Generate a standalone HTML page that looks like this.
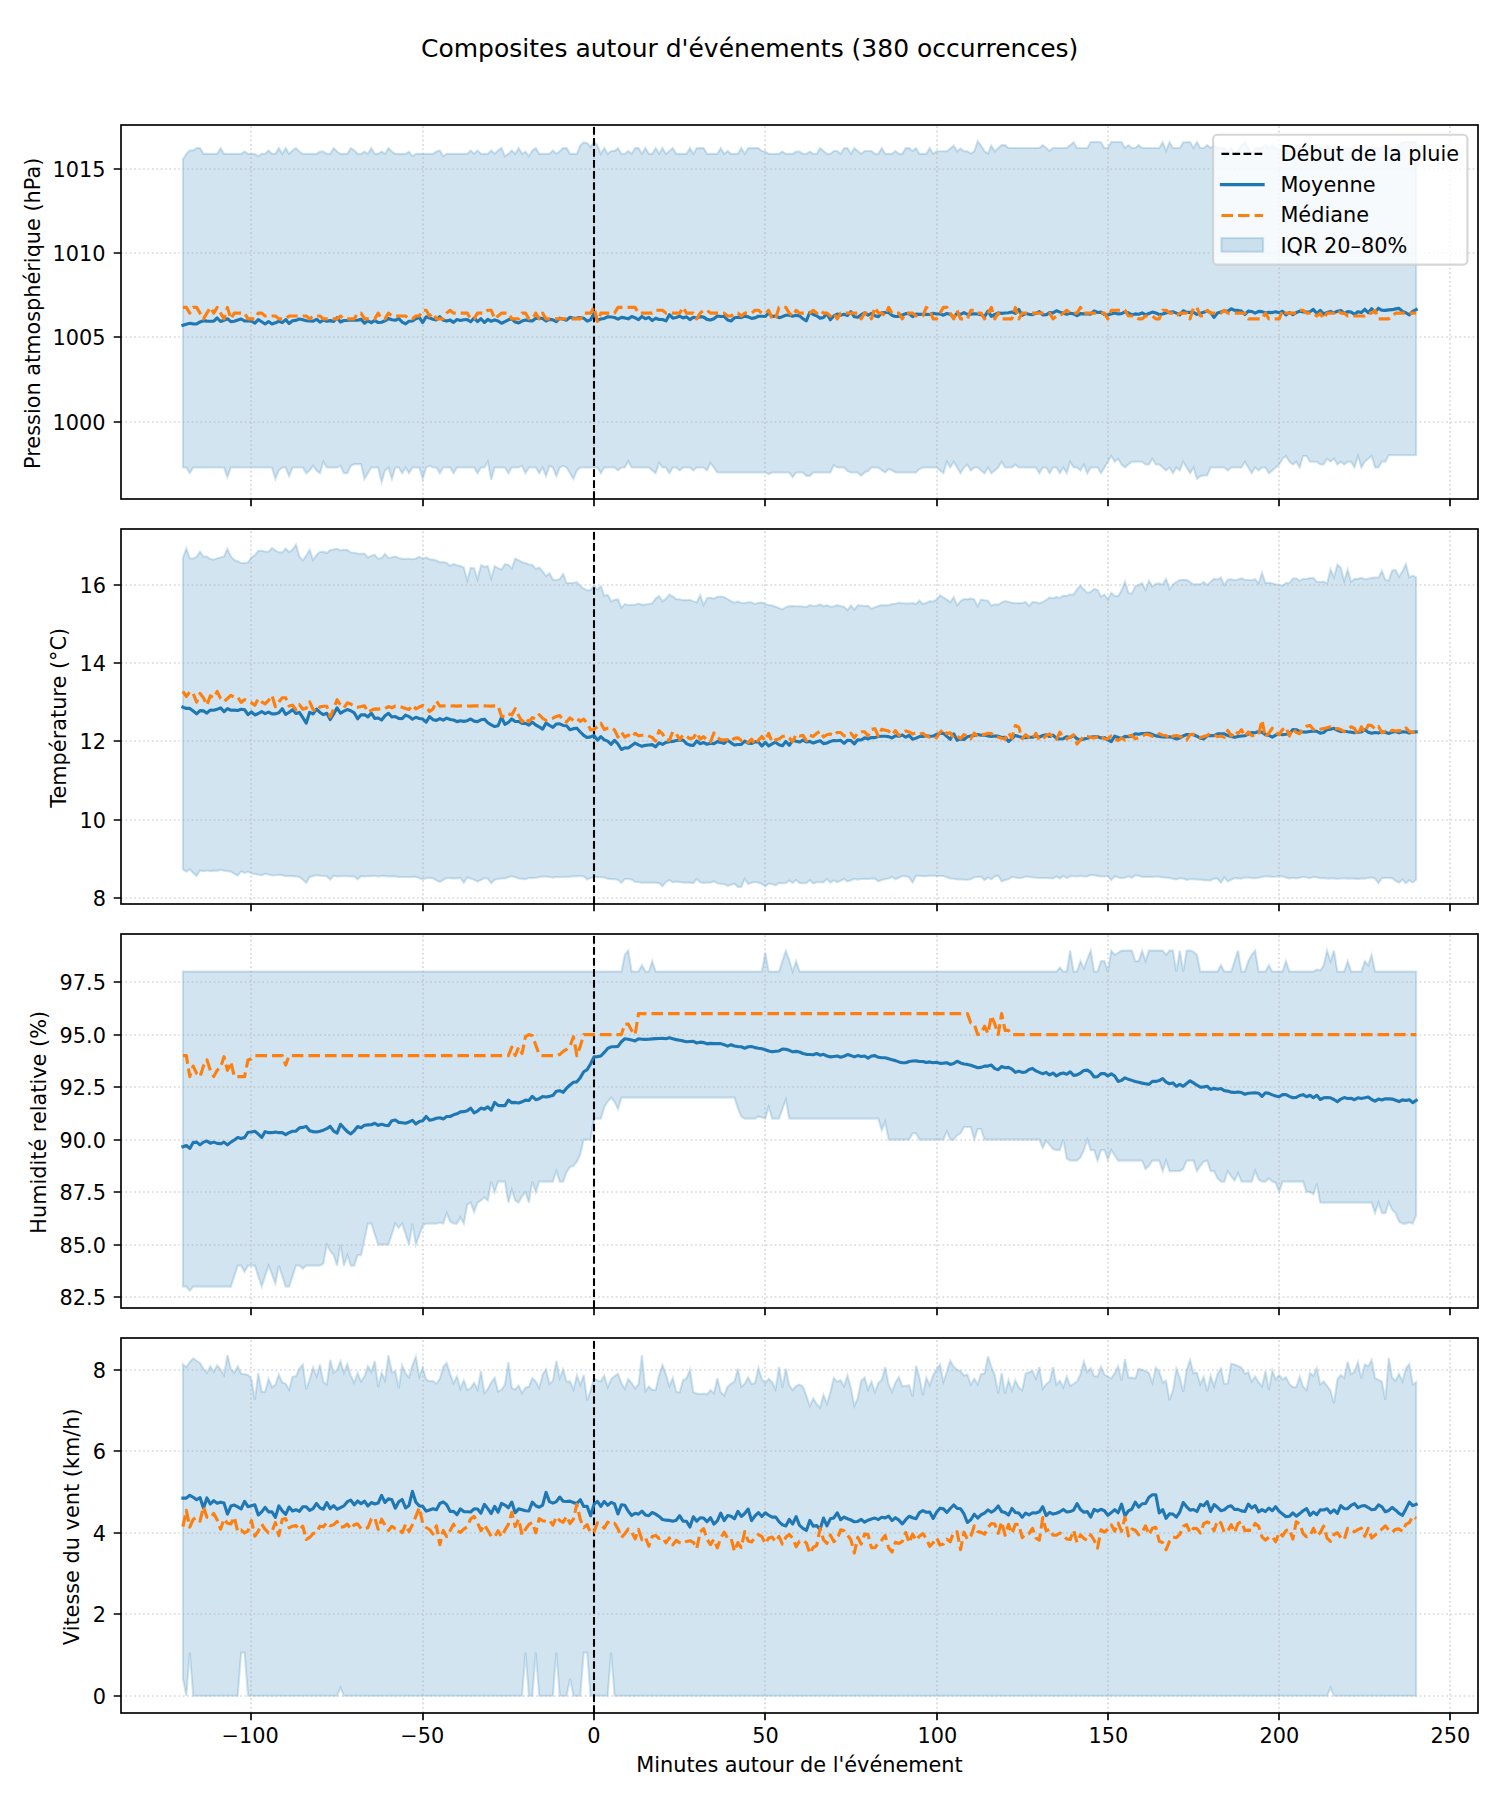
<!DOCTYPE html>
<html lang="fr">
<head>
<meta charset="utf-8">
<title>Composites autour d'événements</title>
<style>
html,body{margin:0;padding:0;background:#fff;}
body{width:1500px;height:1800px;overflow:hidden;font-family:"DejaVu Sans","Liberation Sans",sans-serif;}
svg{display:block;}
</style>
</head>
<body>
<svg width="1500" height="1800" viewBox="0 0 1500 1800" font-family="'DejaVu Sans', 'Liberation Sans', sans-serif" font-size="20.833" fill="#000">
<rect x="0" y="0" width="1500" height="1800" fill="#fff"/>
<text x="749.7" y="57.4" font-size="25.00" text-anchor="middle">Composites autour d'événements (380 occurrences)</text>
<g>
<polygon points="182.92,159.23 186.34,153.84 189.77,150.41 193.19,150.41 196.62,148.12 200.04,148.12 203.47,153.84 206.9,153.84 210.32,153.84 213.75,153.84 217.17,153.84 220.6,148.12 224.02,153.84 227.45,153.84 230.88,153.84 234.3,153.84 237.73,153.84 241.15,153.84 244.58,151.55 248,153.84 251.43,153.84 254.86,153.84 258.28,156.13 261.71,153.84 265.13,153.84 268.56,150.41 271.98,153.84 275.41,153.84 278.84,148.12 282.26,153.84 285.69,148.12 289.11,153.84 292.54,150.41 295.96,148.12 299.39,151.55 302.82,153.84 306.24,153.84 309.67,153.84 313.09,153.84 316.52,153.84 319.94,151.55 323.37,151.55 326.8,153.84 330.22,153.84 333.65,148.12 337.07,151.55 340.5,153.84 343.92,153.84 347.35,153.84 350.78,148.12 354.2,150.41 357.63,153.84 361.05,153.84 364.48,151.55 367.9,153.84 371.33,148.12 374.76,153.84 378.18,153.84 381.61,151.55 385.03,153.84 388.46,148.12 391.88,151.55 395.31,153.84 398.74,153.84 402.16,153.84 405.59,153.84 409.01,151.55 412.44,156.13 415.86,153.84 419.29,153.84 422.72,153.84 426.14,153.84 429.57,153.84 432.99,153.84 436.42,151.55 439.84,150.41 443.27,156.13 446.69,153.84 450.12,153.84 453.55,153.84 456.97,153.84 460.4,153.84 463.82,153.84 467.25,153.84 470.67,150.41 474.1,153.84 477.53,150.41 480.95,153.84 484.38,153.84 487.8,153.84 491.23,150.41 494.65,153.84 498.08,150.41 501.51,148.12 504.93,156.13 508.36,153.84 511.78,150.41 515.21,153.84 518.63,148.12 522.06,153.84 525.49,151.55 528.91,156.13 532.34,150.41 535.76,148.12 539.19,153.84 542.61,153.84 546.04,153.84 549.47,153.84 552.89,150.41 556.32,153.84 559.74,150.98 563.17,148.12 566.59,148.12 570.02,153.84 573.45,153.84 576.87,153.84 580.3,145.26 583.72,142.39 587.15,142.9 590.57,147.11 594,141.72 597.43,145.26 600.85,153.84 604.28,148.12 607.7,153.84 611.13,150.98 614.55,150.98 617.98,148.12 621.41,153.84 624.83,153.84 628.26,150.98 631.68,153.84 635.11,148.12 638.53,148.12 641.96,153.84 645.39,148.12 648.81,153.84 652.24,153.84 655.66,148.12 659.09,153.84 662.51,148.12 665.94,153.84 669.37,150.98 672.79,148.12 676.22,153.84 679.64,153.84 683.07,153.84 686.49,153.84 689.92,148.12 693.35,153.84 696.77,148.12 700.2,148.12 703.62,148.12 707.05,153.84 710.47,153.84 713.9,153.84 717.33,153.84 720.75,148.12 724.18,153.84 727.6,150.98 731.03,153.84 734.45,153.84 737.88,153.84 741.31,148.12 744.73,153.84 748.16,148.12 751.58,148.12 755.01,148.12 758.43,148.12 761.86,150.98 765.28,151.55 768.71,153.84 772.14,153.84 775.56,153.84 778.99,153.84 782.41,151.55 785.84,153.84 789.26,153.84 792.69,153.84 796.12,151.55 799.54,151.55 802.97,153.84 806.39,153.84 809.82,151.55 813.24,153.84 816.67,153.84 820.1,148.12 823.52,150.98 826.95,153.84 830.37,153.84 833.8,150.98 837.22,150.98 840.65,153.84 844.08,148.12 847.5,148.12 850.93,153.84 854.35,148.12 857.78,150.98 861.2,153.84 864.63,150.98 868.06,150.98 871.48,150.98 874.91,153.84 878.33,153.84 881.76,148.12 885.18,153.84 888.61,153.84 892.04,153.84 895.46,150.98 898.89,153.84 902.31,153.84 905.74,148.12 909.16,148.12 912.59,150.98 916.02,148.12 919.44,153.84 922.87,153.84 926.29,153.84 929.72,148.12 933.14,153.84 936.57,151.32 940,151.32 943.42,151.32 946.85,151.32 950.27,148.46 953.7,145.59 957.12,151.32 960.55,148.46 963.98,151.32 967.4,151.32 970.83,153.61 974.25,151.32 977.68,141.21 981.1,145.59 984.53,151.32 987.96,153.61 991.38,145.59 994.81,151.32 998.23,147.95 1001.66,145.09 1005.08,145.09 1008.51,147.95 1011.94,147.95 1015.36,147.95 1018.79,147.95 1022.21,147.95 1025.64,147.95 1029.06,147.95 1032.49,147.95 1035.92,147.95 1039.34,147.95 1042.77,145.09 1046.19,147.95 1049.62,150.81 1053.04,147.95 1056.47,147.95 1059.9,147.95 1063.32,147.95 1066.75,147.95 1070.17,145.09 1073.6,142.22 1077.02,147.95 1080.45,147.95 1083.88,147.95 1087.3,147.95 1090.73,142.06 1094.15,142.06 1097.58,142.06 1101,142.22 1104.43,147.95 1107.86,147.95 1111.28,142.06 1114.71,142.06 1118.13,142.06 1121.56,142.06 1124.98,147.95 1128.41,145.09 1131.83,147.95 1135.26,147.95 1138.69,145.09 1142.11,147.95 1145.54,147.95 1148.96,147.95 1152.39,147.95 1155.81,147.95 1159.24,147.95 1162.67,142.06 1166.09,150.81 1169.52,142.06 1172.94,147.95 1176.37,147.95 1179.79,147.95 1183.22,142.22 1186.65,142.22 1190.07,142.06 1193.5,147.95 1196.92,142.06 1200.35,147.95 1203.77,147.95 1207.2,145.09 1210.63,147.95 1214.05,145.09 1217.48,147.95 1220.9,147.95 1224.33,147.95 1227.75,150.81 1231.18,147.95 1234.61,153.68 1238.03,150.81 1241.46,145.09 1244.88,142.22 1248.31,147.95 1251.73,153.68 1255.16,147.95 1258.59,147.95 1262.01,147.95 1265.44,145.09 1268.86,147.95 1272.29,145.09 1275.71,147.95 1279.14,150.81 1282.57,150.81 1285.99,147.95 1289.42,153.68 1292.84,147.95 1296.27,147.95 1299.69,147.95 1303.12,147.95 1306.55,142.22 1309.97,147.95 1313.4,147.95 1316.82,147.95 1320.25,147.95 1323.67,147.95 1327.1,145.09 1330.53,147.95 1333.95,147.95 1337.38,147.95 1340.8,147.95 1344.23,147.95 1347.65,147.95 1351.08,147.95 1354.51,147.95 1357.93,147.95 1361.36,147.95 1364.78,147.95 1368.21,147.95 1371.63,147.95 1375.06,147.95 1378.49,147.95 1381.91,147.95 1385.34,145.09 1388.76,147.95 1392.19,147.95 1395.61,147.95 1399.04,145.09 1402.47,142.06 1405.89,142.06 1409.32,142.06 1412.74,142.06 1416.17,142.06 1416.17,455.28 1412.74,455.28 1409.32,455.28 1405.89,455.28 1402.47,455.28 1399.04,455.28 1395.61,455.28 1392.19,455.28 1388.76,455.28 1385.34,461.68 1381.91,461.68 1378.49,467.4 1375.06,467.4 1371.63,455.95 1368.21,458.82 1364.78,461.68 1361.36,467.4 1357.93,455.95 1354.51,467.4 1351.08,461.68 1347.65,461.68 1344.23,464.54 1340.8,461.68 1337.38,464.54 1333.95,458.82 1330.53,461.68 1327.1,458.82 1323.67,464.54 1320.25,464.54 1316.82,461.68 1313.4,461.68 1309.97,461.68 1306.55,455.95 1303.12,455.95 1299.69,467.4 1296.27,461.68 1292.84,464.54 1289.42,461.68 1285.99,455.95 1282.57,458.82 1279.14,464.54 1275.71,467.57 1272.29,470.44 1268.86,473.3 1265.44,467.57 1262.01,467.57 1258.59,470.44 1255.16,467.57 1251.73,473.3 1248.31,467.57 1244.88,461.85 1241.46,467.57 1238.03,467.57 1234.61,467.57 1231.18,467.57 1227.75,470.44 1224.33,467.57 1220.9,467.57 1217.48,467.57 1214.05,467.57 1210.63,467.57 1207.2,475.49 1203.77,475.49 1200.35,476.33 1196.92,478.86 1193.5,467.57 1190.07,473.3 1186.65,467.57 1183.22,461.85 1179.79,470.44 1176.37,467.57 1172.94,473.3 1169.52,467.57 1166.09,470.44 1162.67,467.57 1159.24,464.54 1155.81,464.54 1152.39,458.82 1148.96,464.54 1145.54,464.54 1142.11,461.68 1138.69,461.68 1135.26,461.68 1131.83,461.68 1128.41,464.54 1124.98,467.4 1121.56,464.54 1118.13,458.82 1114.71,461.68 1111.28,455.95 1107.86,461.68 1104.43,467.57 1101,473.3 1097.58,467.57 1094.15,467.57 1090.73,467.57 1087.3,473.3 1083.88,464.71 1080.45,470.44 1077.02,467.57 1073.6,467.57 1070.17,461.85 1066.75,473.3 1063.32,467.57 1059.9,473.3 1056.47,467.57 1053.04,467.57 1049.62,473.3 1046.19,467.57 1042.77,467.57 1039.34,473.3 1035.92,467.57 1032.49,467.57 1029.06,467.57 1025.64,467.57 1022.21,467.57 1018.79,467.57 1015.36,464.71 1011.94,467.57 1008.51,467.57 1005.08,467.57 1001.66,461.85 998.23,467.57 994.81,470.44 991.38,473.3 987.96,467.57 984.53,473.3 981.1,470.44 977.68,467.57 974.25,467.57 970.83,470.44 967.4,464.71 963.98,467.57 960.55,473.3 957.12,467.57 953.7,461.85 950.27,467.57 946.85,461.85 943.42,473.3 940,470.44 936.57,467.57 933.14,467.57 929.72,467.57 926.29,467.57 922.87,467.57 919.44,469.02 916.02,472.46 912.59,472.46 909.16,472.46 905.74,472.46 902.31,472.46 898.89,472.46 895.46,472.46 892.04,470.17 888.61,469.02 885.18,472.46 881.76,470.17 878.33,467.57 874.91,467.57 871.48,467.57 868.06,471.01 864.63,472.46 861.2,475.89 857.78,472.46 854.35,472.46 850.93,472.46 847.5,471.01 844.08,467.57 840.65,467.57 837.22,467.57 833.8,465.28 830.37,472.46 826.95,472.46 823.52,472.46 820.1,472.46 816.67,472.46 813.24,472.46 809.82,475.89 806.39,475.89 802.97,472.46 799.54,472.46 796.12,472.46 792.69,477.17 789.26,472.46 785.84,472.46 782.41,472.46 778.99,472.46 775.56,472.46 772.14,472.46 768.71,474.17 765.28,472.46 761.86,472.46 758.43,472.46 755.01,472.46 751.58,472.46 748.16,472.46 744.73,472.46 741.31,472.46 737.88,472.46 734.45,472.46 731.03,472.46 727.6,472.46 724.18,472.46 720.75,472.46 717.33,472.46 713.9,467.57 710.47,462.99 707.05,470.44 703.62,467.57 700.2,467.57 696.77,467.57 693.35,470.44 689.92,467.57 686.49,467.57 683.07,467.57 679.64,470.44 676.22,467.57 672.79,467.57 669.37,473.3 665.94,467.57 662.51,467.57 659.09,462.99 655.66,473.3 652.24,470.44 648.81,467.57 645.39,467.57 641.96,467.57 638.53,467.57 635.11,467.57 631.68,467.57 628.26,461.17 624.83,467.57 621.41,467.57 617.98,470.44 614.55,467.57 611.13,467.57 607.7,467.57 604.28,467.57 600.85,473.3 597.43,467.57 594,467.57 590.57,467.57 587.15,467.57 583.72,467.57 580.3,467.57 576.87,470.44 573.45,479.02 570.02,473.3 566.59,467.57 563.17,465.86 559.74,467.57 556.32,476.16 552.89,467.57 549.47,465.86 546.04,476.16 542.61,467.57 539.19,473.3 535.76,467.57 532.34,467.57 528.91,467.57 525.49,473.3 522.06,465.86 518.63,467.57 515.21,467.57 511.78,467.57 508.36,473.3 504.93,467.57 501.51,467.57 498.08,467.57 494.65,467.57 491.23,479.7 487.8,461.85 484.38,467.57 480.95,467.57 477.53,473.3 474.1,467.57 470.67,467.57 467.25,467.57 463.82,467.57 460.4,467.57 456.97,467.57 453.55,473.3 450.12,467.57 446.69,467.57 443.27,467.57 439.84,473.3 436.42,467.57 432.99,467.57 429.57,465.86 426.14,467.57 422.72,478.86 419.29,467.57 415.86,467.57 412.44,467.57 409.01,473.3 405.59,467.57 402.16,473.3 398.74,467.57 395.31,467.57 391.88,479.02 388.46,467.57 385.03,470.44 381.61,482.22 378.18,467.57 374.76,467.57 371.33,467.57 367.9,473.3 364.48,479.02 361.05,464.14 357.63,464.14 354.2,464.14 350.78,465.86 347.35,473.3 343.92,473.3 340.5,465.86 337.07,467.57 333.65,467.57 330.22,467.57 326.8,467.57 323.37,461.85 319.94,473.3 316.52,470.44 313.09,465.86 309.67,470.44 306.24,473.3 302.82,467.57 299.39,467.57 295.96,467.57 292.54,467.57 289.11,476.16 285.69,467.57 282.26,467.57 278.84,470.44 275.41,479.02 271.98,467.57 268.56,467.57 265.13,467.57 261.71,467.57 258.28,467.57 254.86,467.57 251.43,467.57 248,467.57 244.58,467.57 241.15,467.57 237.73,467.57 234.3,467.57 230.88,467.57 227.45,477.17 224.02,467.57 220.6,467.57 217.17,467.57 213.75,467.57 210.32,467.57 206.9,467.57 203.47,467.57 200.04,467.57 196.62,467.57 193.19,467.57 189.77,472.96 186.34,467.57 182.92,467.57" fill="#1f77b4" fill-opacity="0.2" stroke="#1f77b4" stroke-opacity="0.2" stroke-width="2.083" stroke-linejoin="miter"/>
<path d="M251 499V125M423 499V125M594 499V125M765 499V125M937 499V125M1108 499V125M1279 499V125M1450 499V125M121 422H1478M121 337H1478M121 253H1478M121 169H1478" fill="none" stroke="#b0b0b0" stroke-opacity="0.5" stroke-width="1.667" stroke-dasharray="1.667 2.750"/>
<path d="M594 499V125" fill="none" stroke="#000" stroke-width="2.083" stroke-dasharray="7.708 3.333"/>
<polyline points="182.92,325.28 186.34,324.15 189.77,323.29 193.19,323.89 196.62,323.94 200.04,321.98 203.47,320.67 206.9,321.11 210.32,321.28 213.75,321.22 217.17,318.01 220.6,321.48 224.02,320.24 227.45,318.8 230.88,321.64 234.3,321.26 237.73,320.03 241.15,319 244.58,321.03 248,320.9 251.43,321.26 254.86,323.21 258.28,319.67 261.71,321.73 265.13,323.94 268.56,321.54 271.98,323.92 275.41,322.81 278.84,321.24 282.26,322.64 285.69,319.6 289.11,323.44 292.54,320.79 295.96,320.33 299.39,318.94 302.82,319.74 306.24,320.77 309.67,320.98 313.09,321.17 316.52,319.34 319.94,322.05 323.37,320.24 326.8,321.16 330.22,320.64 333.65,321.38 337.07,317.73 340.5,321.94 343.92,320.55 347.35,320.5 350.78,319.98 354.2,320.2 357.63,320.22 361.05,319.36 364.48,323.11 367.9,320.8 371.33,322.66 374.76,320.43 378.18,322.55 381.61,322.2 385.03,320.82 388.46,318.59 391.88,319.82 395.31,320.23 398.74,318.53 402.16,322.07 405.59,323.8 409.01,321.25 412.44,321.01 415.86,318.7 419.29,317.31 422.72,322.56 426.14,316.76 429.57,318.11 432.99,319.19 436.42,319.87 439.84,316.73 443.27,320.26 446.69,321.07 450.12,320.11 453.55,322.37 456.97,319.55 460.4,320.41 463.82,319.71 467.25,319.64 470.67,321.77 474.1,318.14 477.53,321.65 480.95,318.73 484.38,322.47 487.8,319.46 491.23,321.24 494.65,319.91 498.08,320.93 501.51,323.23 504.93,321.58 508.36,319.76 511.78,318.89 515.21,322.04 518.63,323 522.06,321.08 525.49,320.05 528.91,320.66 532.34,320.9 535.76,318.36 539.19,318.16 542.61,318.47 546.04,320.99 549.47,319.42 552.89,319.81 556.32,321.65 559.74,318.12 563.17,319.3 566.59,320.14 570.02,317.23 573.45,318.19 576.87,318.03 580.3,317.48 583.72,318.18 587.15,321.16 590.57,319.81 594,313.49 597.43,320.3 600.85,319.02 604.28,318.42 607.7,316.78 611.13,316.94 614.55,317.49 617.98,319.07 621.41,317.35 624.83,317.88 628.26,318.86 631.68,316.5 635.11,317.76 638.53,319.59 641.96,316.47 645.39,318.72 648.81,317.38 652.24,320.53 655.66,318.19 659.09,319.54 662.51,319.52 665.94,320.89 669.37,314.69 672.79,318.11 676.22,317.46 679.64,316.09 683.07,317.89 686.49,316.87 689.92,319.65 693.35,317.24 696.77,318.11 700.2,316.66 703.62,317.09 707.05,319.41 710.47,320.06 713.9,318.73 717.33,316.02 720.75,316.44 724.18,316.41 727.6,320.03 731.03,320.99 734.45,317.8 737.88,317.3 741.31,317.66 744.73,316.15 748.16,316.89 751.58,318.37 755.01,317.85 758.43,316.24 761.86,316.29 765.28,316.46 768.71,312.86 772.14,316.65 775.56,316.03 778.99,317.68 782.41,316.67 785.84,315.29 789.26,315.18 792.69,316.24 796.12,315.35 799.54,315.83 802.97,318.72 806.39,320.79 809.82,312.28 813.24,314.48 816.67,315.78 820.1,318.28 823.52,317.54 826.95,313.51 830.37,319.74 833.8,315.97 837.22,314.11 840.65,315.17 844.08,314.2 847.5,315.5 850.93,311.63 854.35,316.77 857.78,317.23 861.2,314.71 864.63,312.91 868.06,315.12 871.48,313.4 874.91,315.75 878.33,316.7 881.76,312.74 885.18,312.44 888.61,312.45 892.04,315.39 895.46,316.44 898.89,316.41 902.31,314.94 905.74,313.67 909.16,313.74 912.59,316.64 916.02,314.13 919.44,314.35 922.87,314.2 926.29,314.33 929.72,314.55 933.14,313.31 936.57,313.97 940,313.81 943.42,315.18 946.85,313.52 950.27,314.29 953.7,317.3 957.12,313.35 960.55,314.47 963.98,312.65 967.4,314.29 970.83,314.17 974.25,313.69 977.68,314.02 981.1,314.66 984.53,316.69 987.96,311.17 991.38,316.34 994.81,314.45 998.23,312.93 1001.66,313.33 1005.08,313.03 1008.51,312.71 1011.94,311.95 1015.36,313.4 1018.79,309.43 1022.21,315.36 1025.64,313.47 1029.06,314.34 1032.49,314.61 1035.92,313.33 1039.34,311.55 1042.77,314.82 1046.19,314.81 1049.62,312.62 1053.04,312.88 1056.47,310.72 1059.9,312.12 1063.32,313.31 1066.75,314.15 1070.17,313.31 1073.6,313.89 1077.02,315.68 1080.45,313.58 1083.88,313.85 1087.3,313.92 1090.73,314.21 1094.15,310.98 1097.58,312.47 1101,312.09 1104.43,314.42 1107.86,315.04 1111.28,313.89 1114.71,313.06 1118.13,313.93 1121.56,313.66 1124.98,311.9 1128.41,312.87 1131.83,314.79 1135.26,313.92 1138.69,314.24 1142.11,312.94 1145.54,314.96 1148.96,313.43 1152.39,312.09 1155.81,313.07 1159.24,314.47 1162.67,313.99 1166.09,312.84 1169.52,312.27 1172.94,311.71 1176.37,313.17 1179.79,314.92 1183.22,310.73 1186.65,312.42 1190.07,312.23 1193.5,312.35 1196.92,314.36 1200.35,313.24 1203.77,312.34 1207.2,311.14 1210.63,312.59 1214.05,317.38 1217.48,312.99 1220.9,312.06 1224.33,310.61 1227.75,311.47 1231.18,308.74 1234.61,310.33 1238.03,310.42 1241.46,311.01 1244.88,314.5 1248.31,311.1 1251.73,311.45 1255.16,313.13 1258.59,311.41 1262.01,311.64 1265.44,312.95 1268.86,312.41 1272.29,312.59 1275.71,311.82 1279.14,312.78 1282.57,311.28 1285.99,314.98 1289.42,312.47 1292.84,314.56 1296.27,312.7 1299.69,311.15 1303.12,311.87 1306.55,312.04 1309.97,311.73 1313.4,309.42 1316.82,313.45 1320.25,310.39 1323.67,313.99 1327.1,312.38 1330.53,311.39 1333.95,312.89 1337.38,311.26 1340.8,310.43 1344.23,313.31 1347.65,311.58 1351.08,312 1354.51,314.34 1357.93,311.65 1361.36,312.54 1364.78,309.27 1368.21,312.59 1371.63,308.65 1375.06,312.01 1378.49,308.23 1381.91,310.31 1385.34,310.41 1388.76,309.84 1392.19,309.66 1395.61,308.87 1399.04,308.34 1402.47,311.45 1405.89,312.79 1409.32,314.91 1412.74,311.41 1416.17,309.64" fill="none" stroke="#1f77b4" stroke-width="3.125" stroke-linejoin="round" stroke-linecap="square"/>
<polyline points="182.92,307.42 186.34,307.42 189.77,313.15 193.19,307.42 196.62,307.42 200.04,313.15 203.47,318.88 206.9,313.15 210.32,307.42 213.75,313.15 217.17,307.42 220.6,313.15 224.02,318.88 227.45,307.42 230.88,318.88 234.3,313.15 237.73,313.15 241.15,313.15 244.58,313.15 248,318.88 251.43,318.88 254.86,318.88 258.28,313.15 261.71,313.15 265.13,316.01 268.56,316.01 271.98,316.01 275.41,316.01 278.84,318.88 282.26,318.88 285.69,318.88 289.11,316.01 292.54,316.01 295.96,316.01 299.39,316.01 302.82,316.01 306.24,316.01 309.67,318.88 313.09,316.01 316.52,316.01 319.94,316.01 323.37,318.88 326.8,318.88 330.22,318.88 333.65,318.88 337.07,318.88 340.5,316.01 343.92,318.88 347.35,318.88 350.78,318.88 354.2,318.88 357.63,313.15 361.05,313.15 364.48,318.88 367.9,318.88 371.33,318.88 374.76,318.88 378.18,313.15 381.61,318.88 385.03,318.88 388.46,313.15 391.88,316.01 395.31,316.01 398.74,316.01 402.16,316.01 405.59,316.01 409.01,318.88 412.44,318.88 415.86,316.01 419.29,316.01 422.72,310.29 426.14,310.29 429.57,316.01 432.99,313.15 436.42,318.88 439.84,318.88 443.27,318.88 446.69,313.15 450.12,310.29 453.55,313.15 456.97,313.15 460.4,313.15 463.82,313.15 467.25,313.15 470.67,318.88 474.1,318.88 477.53,313.15 480.95,313.15 484.38,313.15 487.8,310.29 491.23,310.29 494.65,318.88 498.08,316.01 501.51,313.15 504.93,313.15 508.36,313.15 511.78,318.88 515.21,318.88 518.63,318.88 522.06,313.15 525.49,313.15 528.91,318.88 532.34,318.88 535.76,313.15 539.19,318.88 542.61,313.15 546.04,318.88 549.47,318.88 552.89,318.88 556.32,318.88 559.74,318.88 563.17,318.88 566.59,318.88 570.02,318.88 573.45,318.88 576.87,318.88 580.3,318.88 583.72,313.15 587.15,313.15 590.57,313.15 594,307.09 597.43,321.4 600.85,313.15 604.28,313.15 607.7,313.15 611.13,313.15 614.55,313.15 617.98,307.42 621.41,307.42 624.83,307.42 628.26,307.42 631.68,307.42 635.11,307.42 638.53,313.15 641.96,313.15 645.39,313.15 648.81,313.15 652.24,313.15 655.66,310.29 659.09,310.29 662.51,310.29 665.94,313.15 669.37,313.15 672.79,313.15 676.22,313.15 679.64,313.15 683.07,307.42 686.49,313.15 689.92,313.15 693.35,313.15 696.77,318.88 700.2,313.15 703.62,310.29 707.05,310.29 710.47,313.15 713.9,313.15 717.33,313.15 720.75,313.15 724.18,313.15 727.6,316.01 731.03,316.01 734.45,313.15 737.88,313.15 741.31,316.01 744.73,313.15 748.16,313.15 751.58,313.15 755.01,310.29 758.43,310.29 761.86,313.15 765.28,313.15 768.71,310.29 772.14,318.88 775.56,318.88 778.99,307.42 782.41,307.42 785.84,307.42 789.26,313.15 792.69,316.01 796.12,310.29 799.54,313.15 802.97,313.15 806.39,313.15 809.82,313.15 813.24,310.29 816.67,313.15 820.1,310.29 823.52,313.15 826.95,313.15 830.37,316.01 833.8,313.15 837.22,318.88 840.65,313.15 844.08,313.15 847.5,313.15 850.93,313.15 854.35,313.15 857.78,313.15 861.2,318.88 864.63,313.15 868.06,313.15 871.48,318.88 874.91,307.42 878.33,313.15 881.76,313.15 885.18,316.01 888.61,307.42 892.04,313.15 895.46,313.15 898.89,313.15 902.31,318.88 905.74,313.15 909.16,313.15 912.59,313.15 916.02,316.01 919.44,316.01 922.87,316.01 926.29,307.42 929.72,310.29 933.14,318.88 936.57,318.88 940,313.15 943.42,307.42 946.85,307.42 950.27,313.15 953.7,318.88 957.12,310.29 960.55,318.88 963.98,318.88 967.4,318.88 970.83,310.29 974.25,310.29 977.68,313.15 981.1,313.15 984.53,318.88 987.96,313.15 991.38,307.42 994.81,318.88 998.23,313.15 1001.66,318.88 1005.08,318.88 1008.51,318.88 1011.94,318.88 1015.36,307.42 1018.79,318.88 1022.21,313.15 1025.64,313.15 1029.06,313.15 1032.49,313.15 1035.92,313.15 1039.34,313.15 1042.77,313.15 1046.19,313.15 1049.62,313.15 1053.04,318.88 1056.47,316.01 1059.9,316.01 1063.32,313.15 1066.75,310.29 1070.17,313.15 1073.6,313.15 1077.02,313.15 1080.45,307.42 1083.88,313.15 1087.3,313.15 1090.73,313.15 1094.15,313.15 1097.58,313.15 1101,313.15 1104.43,313.15 1107.86,318.88 1111.28,310.29 1114.71,310.29 1118.13,310.29 1121.56,310.29 1124.98,310.29 1128.41,316.01 1131.83,316.01 1135.26,316.01 1138.69,318.88 1142.11,318.88 1145.54,316.01 1148.96,316.01 1152.39,316.01 1155.81,318.88 1159.24,318.88 1162.67,310.29 1166.09,310.29 1169.52,313.15 1172.94,313.15 1176.37,316.01 1179.79,313.15 1183.22,313.15 1186.65,313.15 1190.07,318.88 1193.5,307.42 1196.92,307.42 1200.35,316.01 1203.77,316.01 1207.2,310.29 1210.63,313.15 1214.05,313.15 1217.48,313.15 1220.9,313.15 1224.33,310.29 1227.75,313.15 1231.18,313.15 1234.61,313.15 1238.03,313.15 1241.46,313.15 1244.88,313.15 1248.31,318.88 1251.73,318.88 1255.16,318.88 1258.59,318.88 1262.01,318.88 1265.44,313.15 1268.86,318.88 1272.29,318.88 1275.71,318.88 1279.14,318.88 1282.57,310.29 1285.99,313.15 1289.42,313.15 1292.84,313.15 1296.27,313.15 1299.69,310.29 1303.12,310.29 1306.55,313.15 1309.97,313.15 1313.4,313.15 1316.82,316.01 1320.25,313.15 1323.67,318.88 1327.1,313.15 1330.53,313.15 1333.95,313.15 1337.38,310.29 1340.8,313.15 1344.23,313.15 1347.65,316.01 1351.08,316.01 1354.51,316.01 1357.93,316.01 1361.36,316.01 1364.78,316.01 1368.21,313.15 1371.63,313.15 1375.06,310.29 1378.49,318.88 1381.91,318.88 1385.34,318.88 1388.76,318.88 1392.19,316.01 1395.61,313.15 1399.04,313.15 1402.47,313.15 1405.89,313.15 1409.32,313.15 1412.74,313.15 1416.17,313.15" fill="none" stroke="#ff7f0e" stroke-width="3.125" stroke-linejoin="round" stroke-dasharray="11.562 5.000"/>
<path d="M251 499v7.29M423 499v7.29M594 499v7.29M765 499v7.29M937 499v7.29M1108 499v7.29M1279 499v7.29M1450 499v7.29M121 422h-7.29M121 337h-7.29M121 253h-7.29M121 169h-7.29" fill="none" stroke="#000" stroke-width="1.667"/>
<rect x="121" y="125" width="1357" height="374" fill="none" stroke="#000" stroke-width="1.667" stroke-linejoin="miter"/>
<text x="105.5" y="429.6" text-anchor="end">1000</text>
<text x="105.5" y="344.6" text-anchor="end">1005</text>
<text x="105.5" y="260.6" text-anchor="end">1010</text>
<text x="105.5" y="176.6" text-anchor="end">1015</text>
<text transform="translate(39.9 313.3) rotate(-90)" text-anchor="middle">Pression atmosphérique (hPa)</text>
</g>
<g>
<polygon points="182.92,557.99 186.34,548.32 189.77,558.25 193.19,558.46 196.62,556.72 200.04,551.62 203.47,556.65 206.9,556.46 210.32,559 213.75,559.75 217.17,558.36 220.6,557.57 224.02,556.51 227.45,548.89 230.88,556.51 234.3,560.02 237.73,561.25 241.15,563.06 244.58,562.89 248,562.41 251.43,557.31 254.86,555.13 258.28,550.76 261.71,550.68 265.13,551.53 268.56,551.79 271.98,547.95 275.41,550.65 278.84,552.24 282.26,552.41 285.69,548.56 289.11,552.05 292.54,549.65 295.96,544.62 299.39,556.56 302.82,560.38 306.24,555.53 309.67,549.72 313.09,559.92 316.52,555.03 319.94,551.97 323.37,551.66 326.8,553.05 330.22,549.99 333.65,549.44 337.07,548.74 340.5,550.46 343.92,549.75 347.35,550.02 350.78,552.52 354.2,552.82 357.63,553.48 361.05,553.76 364.48,553.55 367.9,557.41 371.33,555.69 374.76,554.78 378.18,558.68 381.61,557.97 385.03,553.94 388.46,557.9 391.88,557.38 395.31,556.51 398.74,558.02 402.16,558.88 405.59,558.71 409.01,558.82 412.44,559.26 415.86,558.43 419.29,556.65 422.72,558.65 426.14,557.41 429.57,559.21 432.99,559.62 436.42,560.52 439.84,562.31 443.27,562.08 446.69,563.03 450.12,565.81 453.55,563.97 456.97,565.36 460.4,566.11 463.82,567.42 467.25,580.4 470.67,567.79 474.1,568.21 477.53,579.26 480.95,565.3 484.38,566.75 487.8,566.05 491.23,578.42 494.65,566.09 498.08,568.17 501.51,569.5 504.93,564.12 508.36,564.84 511.78,568.39 515.21,558.62 518.63,560.18 522.06,562.33 525.49,563.07 528.91,564.4 532.34,564.98 535.76,568.99 539.19,567.51 542.61,571.29 546.04,576.03 549.47,573.14 552.89,579.46 556.32,580.15 559.74,578.97 563.17,574.05 566.59,583.01 570.02,583.01 573.45,582.77 576.87,582.18 580.3,586.06 583.72,588.71 587.15,590.28 590.57,590.12 594,585.4 597.43,589.42 600.85,586.12 604.28,595.8 607.7,594.69 611.13,601.3 614.55,599.68 617.98,599.34 621.41,607.62 624.83,604.06 628.26,605.02 631.68,604.67 635.11,604.75 638.53,603.53 641.96,604.82 645.39,604.43 648.81,604.03 652.24,603.37 655.66,598.55 659.09,595.97 662.51,601.29 665.94,598.66 669.37,594.63 672.79,596.3 676.22,599.11 679.64,599.25 683.07,600.1 686.49,600.16 689.92,599.75 693.35,601.39 696.77,602.35 700.2,595.14 703.62,604.95 707.05,597.91 710.47,597.77 713.9,598.59 717.33,596.82 720.75,596.45 724.18,597.19 727.6,599.04 731.03,601.17 734.45,602.74 737.88,601.48 741.31,602.96 744.73,603.04 748.16,602.3 751.58,602.2 755.01,603.91 758.43,602.66 761.86,602.48 765.28,604.04 768.71,605.02 772.14,605.58 775.56,606.84 778.99,607.97 782.41,609.15 785.84,607.13 789.26,606.13 792.69,606.06 796.12,606.23 799.54,606.29 802.97,606.5 806.39,606.92 809.82,605.03 813.24,606.01 816.67,605.69 820.1,604.34 823.52,606.12 826.95,605.29 830.37,606.79 833.8,606.23 837.22,605.2 840.65,605.95 844.08,606.86 847.5,610.07 850.93,605.48 854.35,609.6 857.78,605.22 861.2,605.53 864.63,606 868.06,605.8 871.48,608.69 874.91,607.29 878.33,606.09 881.76,604.97 885.18,605.37 888.61,605.14 892.04,604.03 895.46,603.73 898.89,602.71 902.31,603.15 905.74,603.46 909.16,603.47 912.59,603.01 916.02,604.02 919.44,600.54 922.87,604.05 926.29,602.82 929.72,601.19 933.14,601.54 936.57,599.78 940,595.37 943.42,597.45 946.85,599.61 950.27,602.2 953.7,597.19 957.12,605.16 960.55,600.99 963.98,598.98 967.4,599.36 970.83,598.41 974.25,599.44 977.68,606.18 981.1,599.38 984.53,600.34 987.96,600.64 991.38,605.74 994.81,604.34 998.23,604.85 1001.66,602.32 1005.08,601.11 1008.51,601.81 1011.94,602.68 1015.36,603.27 1018.79,603.1 1022.21,603.01 1025.64,601.96 1029.06,605.91 1032.49,601.95 1035.92,602.16 1039.34,603.31 1042.77,602.09 1046.19,600 1049.62,597.45 1053.04,598.13 1056.47,596.92 1059.9,597.9 1063.32,595.59 1066.75,595.94 1070.17,594.38 1073.6,594.66 1077.02,589.25 1080.45,585.48 1083.88,589.45 1087.3,592.9 1090.73,591.73 1094.15,588.82 1097.58,589.92 1101,596.57 1104.43,594.52 1107.86,599.43 1111.28,592.8 1114.71,596.04 1118.13,596.1 1121.56,590.26 1124.98,581.47 1128.41,592.88 1131.83,593.65 1135.26,586.26 1138.69,584.93 1142.11,583.03 1145.54,589.81 1148.96,580.72 1152.39,586.44 1155.81,583.73 1159.24,583.42 1162.67,584.56 1166.09,578.83 1169.52,589.28 1172.94,584.54 1176.37,581.93 1179.79,579.91 1183.22,579.77 1186.65,579.89 1190.07,581.98 1193.5,584.41 1196.92,584 1200.35,584.22 1203.77,581.94 1207.2,584.93 1210.63,581.67 1214.05,578.65 1217.48,579.64 1220.9,577.47 1224.33,585.1 1227.75,579.63 1231.18,579.29 1234.61,580.28 1238.03,579.47 1241.46,578.16 1244.88,579.76 1248.31,579.93 1251.73,580.13 1255.16,579.23 1258.59,583.32 1262.01,572.73 1265.44,583 1268.86,582.78 1272.29,583.17 1275.71,584.57 1279.14,584.55 1282.57,585.71 1285.99,583.06 1289.42,582.79 1292.84,578.52 1296.27,578.49 1299.69,580.69 1303.12,578.91 1306.55,578.91 1309.97,577.96 1313.4,577.97 1316.82,581.76 1320.25,581.97 1323.67,581.67 1327.1,583.42 1330.53,569.32 1333.95,577.41 1337.38,564.62 1340.8,567.86 1344.23,581.12 1347.65,569.44 1351.08,581.84 1354.51,578.7 1357.93,578.84 1361.36,577.82 1364.78,579.23 1368.21,578.8 1371.63,577.86 1375.06,577.5 1378.49,577.52 1381.91,571.06 1385.34,579.72 1388.76,580.76 1392.19,570.52 1395.61,569.89 1399.04,576.73 1402.47,571.35 1405.89,564.03 1409.32,577.25 1412.74,575.67 1416.17,577.2 1416.17,879.81 1412.74,882.54 1409.32,880.3 1405.89,883.35 1402.47,879.41 1399.04,882.7 1395.61,880.75 1392.19,878.29 1388.76,878.01 1385.34,877.82 1381.91,878.25 1378.49,883.24 1375.06,878.6 1371.63,877.43 1368.21,878.01 1364.78,878.76 1361.36,878.61 1357.93,878.91 1354.51,878.63 1351.08,878.57 1347.65,878.61 1344.23,878.34 1340.8,878.44 1337.38,878.95 1333.95,878.35 1330.53,878.39 1327.1,878.62 1323.67,878.16 1320.25,878.3 1316.82,877.38 1313.4,877.05 1309.97,878.23 1306.55,877.54 1303.12,876.96 1299.69,877.67 1296.27,878.35 1292.84,877.82 1289.42,878.53 1285.99,877.48 1282.57,876.53 1279.14,876.12 1275.71,876.8 1272.29,877.03 1268.86,876.45 1265.44,876.3 1262.01,876.91 1258.59,877.79 1255.16,878.31 1251.73,878.11 1248.31,877.61 1244.88,877.56 1241.46,878.71 1238.03,878.4 1234.61,878.1 1231.18,879.79 1227.75,881.53 1224.33,877.26 1220.9,882.63 1217.48,878.65 1214.05,878.61 1210.63,880.5 1207.2,880.34 1203.77,880.32 1200.35,879.6 1196.92,879.45 1193.5,879.26 1190.07,879.18 1186.65,879.9 1183.22,878.43 1179.79,878.35 1176.37,879.49 1172.94,878.87 1169.52,877.87 1166.09,877.77 1162.67,877.39 1159.24,876.68 1155.81,876.57 1152.39,876.99 1148.96,876.89 1145.54,876.99 1142.11,876.88 1138.69,875.69 1135.26,875.34 1131.83,877.83 1128.41,876.27 1124.98,877.66 1121.56,878.24 1118.13,877.55 1114.71,876.31 1111.28,880.09 1107.86,876.07 1104.43,876.56 1101,876.57 1097.58,875.9 1094.15,875.34 1090.73,874.9 1087.3,876.47 1083.88,876.52 1080.45,876.09 1077.02,876.45 1073.6,876.31 1070.17,876.26 1066.75,878.12 1063.32,876.02 1059.9,878.48 1056.47,876.5 1053.04,878.52 1049.62,878.19 1046.19,878.02 1042.77,878.03 1039.34,878.04 1035.92,877.75 1032.49,877.35 1029.06,877.04 1025.64,876.49 1022.21,877.78 1018.79,878.21 1015.36,877.54 1011.94,877.02 1008.51,879.35 1005.08,880.02 1001.66,881.4 998.23,875.75 994.81,876.53 991.38,879.35 987.96,877.43 984.53,880.1 981.1,876.67 977.68,876.94 974.25,877.28 970.83,879.28 967.4,879.81 963.98,879.72 960.55,879.18 957.12,879.45 953.7,878.78 950.27,878.44 946.85,877.33 943.42,876.03 940,875.95 936.57,875.95 933.14,875.71 929.72,875.7 926.29,876.2 922.87,876.16 919.44,875.76 916.02,875.84 912.59,882.38 909.16,877.37 905.74,876.32 902.31,876.05 898.89,877.71 895.46,879.3 892.04,876.92 888.61,878.46 885.18,879.18 881.76,880.1 878.33,881.3 874.91,878.65 871.48,878.75 868.06,878.99 864.63,878.69 861.2,878.99 857.78,879.6 854.35,879 850.93,880.25 847.5,881.59 844.08,879.01 840.65,880.73 837.22,882.22 833.8,880.37 830.37,882.62 826.95,878.97 823.52,882.33 820.1,882.3 816.67,882.29 813.24,883.46 809.82,880.25 806.39,883.05 802.97,883.35 799.54,882.89 796.12,879.95 792.69,883 789.26,880.64 785.84,883.09 782.41,883.33 778.99,882.97 775.56,885.33 772.14,884.21 768.71,883.47 765.28,886.47 761.86,883.98 758.43,882.84 755.01,882 751.58,882.75 748.16,884.03 744.73,879.02 741.31,886.97 737.88,887.04 734.45,883.79 731.03,884.86 727.6,885.95 724.18,884.04 720.75,883.84 717.33,883.35 713.9,881.21 710.47,882.78 707.05,882.58 703.62,882.92 700.2,882.34 696.77,878.98 693.35,883.15 689.92,882.65 686.49,882.5 683.07,882.6 679.64,882.02 676.22,881.62 672.79,882.18 669.37,880.17 665.94,882.06 662.51,886.14 659.09,883.1 655.66,882.82 652.24,882.61 648.81,882.67 645.39,882.51 641.96,882.87 638.53,882.06 635.11,881.87 631.68,879.6 628.26,878.99 624.83,878.97 621.41,882.86 617.98,879.87 614.55,879.11 611.13,879.25 607.7,878.65 604.28,877.6 600.85,877.26 597.43,877.16 594,876.79 590.57,878.13 587.15,879.49 583.72,876.38 580.3,876.02 576.87,876.34 573.45,876.22 570.02,876.72 566.59,876.86 563.17,877.03 559.74,877.19 556.32,877.06 552.89,877.59 549.47,876.91 546.04,876.59 542.61,876.46 539.19,877.23 535.76,877.75 532.34,878.09 528.91,878.01 525.49,879.26 522.06,878.85 518.63,878.5 515.21,877.15 511.78,876.24 508.36,877.31 504.93,878.52 501.51,878.46 498.08,879.1 494.65,879.79 491.23,883.24 487.8,878.59 484.38,878.22 480.95,879.88 477.53,881.55 474.1,879.85 470.67,878.5 467.25,877.4 463.82,882.72 460.4,877.85 456.97,878.36 453.55,878.39 450.12,878.24 446.69,878.11 443.27,879.95 439.84,881.91 436.42,880.45 432.99,878.26 429.57,877.83 426.14,878.23 422.72,879.37 419.29,878.17 415.86,876.89 412.44,876.85 409.01,877.2 405.59,877.08 402.16,876.97 398.74,876.95 395.31,876.4 391.88,876.16 388.46,876.59 385.03,875.89 381.61,876.1 378.18,876.54 374.76,875.82 371.33,876.21 367.9,876.33 364.48,876.4 361.05,876.19 357.63,879.35 354.2,876.32 350.78,876.48 347.35,876.17 343.92,876.23 340.5,876.29 337.07,876.54 333.65,875.8 330.22,879.57 326.8,876.28 323.37,876.07 319.94,875.73 316.52,875.19 313.09,875.96 309.67,876.99 306.24,882.96 302.82,879.76 299.39,876.96 295.96,876.51 292.54,876.14 289.11,875.94 285.69,876.23 282.26,875.13 278.84,874.81 275.41,875.27 271.98,875.54 268.56,874.6 265.13,873.79 261.71,875.29 258.28,874.73 254.86,874.06 251.43,873.21 248,871.8 244.58,872.87 241.15,871.41 237.73,875.54 234.3,873.74 230.88,871.64 227.45,871.12 224.02,870.63 220.6,869.76 217.17,870.83 213.75,870.63 210.32,871.13 206.9,870.59 203.47,871.2 200.04,870.51 196.62,875.88 193.19,872.98 189.77,869.36 186.34,871.66 182.92,869.35" fill="#1f77b4" fill-opacity="0.2" stroke="#1f77b4" stroke-opacity="0.2" stroke-width="2.083" stroke-linejoin="miter"/>
<path d="M251 904V529M423 904V529M594 904V529M765 904V529M937 904V529M1108 904V529M1279 904V529M1450 904V529M121 898H1478M121 820H1478M121 741H1478M121 663H1478M121 585H1478" fill="none" stroke="#b0b0b0" stroke-opacity="0.5" stroke-width="1.667" stroke-dasharray="1.667 2.750"/>
<path d="M594 904V529" fill="none" stroke="#000" stroke-width="2.083" stroke-dasharray="7.708 3.333"/>
<polyline points="182.92,707.13 186.34,708.43 189.77,708.42 193.19,711.07 196.62,713.83 200.04,710.6 203.47,710.91 206.9,713.05 210.32,710.06 213.75,710.28 217.17,709.31 220.6,707.83 224.02,711.71 227.45,708.67 230.88,710.25 234.3,710.15 237.73,710.52 241.15,709.29 244.58,709.76 248,714.64 251.43,711.98 254.86,714.94 258.28,713.5 261.71,711.53 265.13,713.58 268.56,712.13 271.98,713.93 275.41,713.87 278.84,712.74 282.26,708.66 285.69,714.47 289.11,712.24 292.54,709.68 295.96,713.41 299.39,712.43 302.82,717.67 306.24,723.11 309.67,712.34 313.09,713.88 316.52,709.12 319.94,712.48 323.37,714.6 326.8,713.33 330.22,719.51 333.65,713.86 337.07,707.89 340.5,713.28 343.92,711.07 347.35,709.58 350.78,710.73 354.2,712.83 357.63,718.84 361.05,714.82 364.48,714.69 367.9,716.87 371.33,713.11 374.76,718.34 378.18,717.97 381.61,720.03 385.03,715.8 388.46,713.35 391.88,717.01 395.31,716.52 398.74,718.44 402.16,718.65 405.59,715.13 409.01,716.59 412.44,719.23 415.86,717.24 419.29,718.42 422.72,719.09 426.14,722.2 429.57,716.54 432.99,719.66 436.42,720.39 439.84,718.58 443.27,720.15 446.69,718.1 450.12,719.53 453.55,720 456.97,721.62 460.4,720.78 463.82,721.35 467.25,720.69 470.67,719.02 474.1,721.09 477.53,721.62 480.95,719.84 484.38,719.18 487.8,722.76 491.23,724.91 494.65,726.56 498.08,725.79 501.51,717.22 504.93,724.37 508.36,722.47 511.78,718.91 515.21,721.54 518.63,721.5 522.06,723.4 525.49,723.41 528.91,725.16 532.34,722.08 535.76,725 539.19,726.78 542.61,729.15 546.04,723.08 549.47,725.38 552.89,727.28 556.32,723.99 559.74,723.83 563.17,725.45 566.59,725.79 570.02,729.75 573.45,728.67 576.87,728.19 580.3,732.01 583.72,735.41 587.15,737.55 590.57,736.85 594,735.52 597.43,740.14 600.85,736.67 604.28,739.9 607.7,741.13 611.13,744.33 614.55,740.33 617.98,744.01 621.41,749.51 624.83,747.84 628.26,748.06 631.68,745.46 635.11,743.13 638.53,744.88 641.96,746.37 645.39,745.37 648.81,744.99 652.24,744.62 655.66,746.83 659.09,742.86 662.51,744.41 665.94,742.46 669.37,741.68 672.79,741.43 676.22,740.45 679.64,740.07 683.07,740.03 686.49,743.58 689.92,745.13 693.35,745.35 696.77,740.95 700.2,743.76 703.62,742.6 707.05,744.22 710.47,743.27 713.9,743.77 717.33,741.62 720.75,742.37 724.18,743.43 727.6,740.16 731.03,742.85 734.45,745.05 737.88,744.47 741.31,744.35 744.73,741.17 748.16,743.15 751.58,743.51 755.01,741.9 758.43,741.92 761.86,746.1 765.28,742.39 768.71,745.89 772.14,743.94 775.56,742.15 778.99,744.68 782.41,745.74 785.84,741.43 789.26,745.31 792.69,740.26 796.12,741.16 799.54,742.04 802.97,740.03 806.39,741.86 809.82,741.35 813.24,743.05 816.67,741.68 820.1,740.79 823.52,743.59 826.95,742.97 830.37,741.4 833.8,740.57 837.22,740.73 840.65,740.32 844.08,743.33 847.5,740.25 850.93,740.57 854.35,743.87 857.78,739.84 861.2,740.03 864.63,737.86 868.06,738.91 871.48,737.54 874.91,737.62 878.33,736.44 881.76,736.19 885.18,736.29 888.61,736.64 892.04,737.91 895.46,735.71 898.89,736.24 902.31,735.01 905.74,737.21 909.16,735.36 912.59,739.24 916.02,738.11 919.44,736.56 922.87,736.4 926.29,735.7 929.72,736.31 933.14,736.04 936.57,734.27 940,733.55 943.42,733.24 946.85,736.41 950.27,739.28 953.7,733.78 957.12,740.2 960.55,738.85 963.98,739.38 967.4,736.85 970.83,735.89 974.25,735.48 977.68,734.5 981.1,735.19 984.53,735.07 987.96,736.04 991.38,736.45 994.81,736 998.23,736.16 1001.66,737.5 1005.08,737.33 1008.51,741.45 1011.94,738.61 1015.36,735.46 1018.79,736.52 1022.21,737.42 1025.64,737.8 1029.06,737.27 1032.49,737.1 1035.92,736.34 1039.34,737.14 1042.77,735.52 1046.19,734.89 1049.62,736.46 1053.04,735.14 1056.47,738.39 1059.9,738.99 1063.32,738.69 1066.75,736.73 1070.17,737.54 1073.6,735.33 1077.02,738.86 1080.45,739.9 1083.88,738.95 1087.3,738.22 1090.73,737.17 1094.15,736.9 1097.58,736.59 1101,738.03 1104.43,737.57 1107.86,739.89 1111.28,741.68 1114.71,736.19 1118.13,737.53 1121.56,738.53 1124.98,736.38 1128.41,736.74 1131.83,736.1 1135.26,733.71 1138.69,734.25 1142.11,733.44 1145.54,733.43 1148.96,733.29 1152.39,734.57 1155.81,735.85 1159.24,736.4 1162.67,737.03 1166.09,737.01 1169.52,736.78 1172.94,737.57 1176.37,738.94 1179.79,738.06 1183.22,735.95 1186.65,734.52 1190.07,734.52 1193.5,734.73 1196.92,736.2 1200.35,738.23 1203.77,738.84 1207.2,735.82 1210.63,735.46 1214.05,735.73 1217.48,733.91 1220.9,733.82 1224.33,733.91 1227.75,735.53 1231.18,736.38 1234.61,737.35 1238.03,736.46 1241.46,735.99 1244.88,735.71 1248.31,734.15 1251.73,732.51 1255.16,732.8 1258.59,731.52 1262.01,732.17 1265.44,734.63 1268.86,735.46 1272.29,737.1 1275.71,735.06 1279.14,733.95 1282.57,734.68 1285.99,734.3 1289.42,733.74 1292.84,729.56 1296.27,729.7 1299.69,731.72 1303.12,732.02 1306.55,732.07 1309.97,731.54 1313.4,731.17 1316.82,731.3 1320.25,733.23 1323.67,732.52 1327.1,729.65 1330.53,729.16 1333.95,728.3 1337.38,730.39 1340.8,731.6 1344.23,731.26 1347.65,731.77 1351.08,732.17 1354.51,732.81 1357.93,732.2 1361.36,731.85 1364.78,729.84 1368.21,732.27 1371.63,733.3 1375.06,732.53 1378.49,733.07 1381.91,731.85 1385.34,732.36 1388.76,733.46 1392.19,732.12 1395.61,731.54 1399.04,732.83 1402.47,731.83 1405.89,732 1409.32,732.88 1412.74,732.07 1416.17,731.87" fill="none" stroke="#1f77b4" stroke-width="3.125" stroke-linejoin="round" stroke-linecap="square"/>
<polyline points="182.92,691.48 186.34,696.53 189.77,691.48 193.19,693.54 196.62,702.05 200.04,693.44 203.47,697.8 206.9,705.18 210.32,695.83 213.75,697.94 217.17,691.48 220.6,698.42 224.02,701.67 227.45,698.52 230.88,695.46 234.3,697.07 237.73,697.05 241.15,702.45 244.58,699.58 248,701.02 251.43,702.67 254.86,705.24 258.28,698.76 261.71,701.96 265.13,703.85 268.56,700.36 271.98,695.49 275.41,706.75 278.84,701.96 282.26,697.73 285.69,697.77 289.11,706.11 292.54,705.14 295.96,709.75 299.39,704.58 302.82,709.24 306.24,708.3 309.67,701.84 313.09,709.51 316.52,711.51 319.94,706.86 323.37,706.31 326.8,706.22 330.22,716.93 333.65,708.74 337.07,699.7 340.5,704.96 343.92,707.9 347.35,702.82 350.78,703.97 354.2,706.59 357.63,707.17 361.05,706.54 364.48,705.74 367.9,712.16 371.33,710.29 374.76,708.9 378.18,709.09 381.61,708.51 385.03,708.44 388.46,706.54 391.88,707.78 395.31,706 398.74,706.16 402.16,707.3 405.59,708.41 409.01,709.41 412.44,705.26 415.86,708.81 419.29,707.02 422.72,705.49 426.14,706.85 429.57,711.6 432.99,709 436.42,701.06 439.84,706.21 443.27,705.81 446.69,706.14 450.12,705.97 453.55,705.84 456.97,706.13 460.4,705.85 463.82,706.3 467.25,706.01 470.67,706.08 474.1,705.93 477.53,705.88 480.95,705.83 484.38,705.83 487.8,706.05 491.23,706.12 494.65,705.93 498.08,706.07 501.51,716.14 504.93,716.67 508.36,713.71 511.78,714.88 515.21,708.71 518.63,715.55 522.06,721.8 525.49,717.65 528.91,721.88 532.34,717.58 535.76,719.02 539.19,714.68 542.61,718.23 546.04,720.48 549.47,719.34 552.89,718.2 556.32,716.39 559.74,715.51 563.17,720.89 566.59,722.06 570.02,717.85 573.45,720.67 576.87,718.45 580.3,721.31 583.72,719.14 587.15,723.33 590.57,729.83 594,729.45 597.43,726.68 600.85,723.19 604.28,729.45 607.7,728.2 611.13,727.57 614.55,729.97 617.98,737.09 621.41,732.1 624.83,737.19 628.26,735.02 631.68,737.34 635.11,733.28 638.53,735.82 641.96,735.24 645.39,734.93 648.81,736.1 652.24,737.39 655.66,741.2 659.09,730.63 662.51,733.87 665.94,739.86 669.37,740.39 672.79,731.63 676.22,733.87 679.64,739.74 683.07,734.87 686.49,735.98 689.92,738.85 693.35,737.84 696.77,732.8 700.2,739.16 703.62,736.63 707.05,740.01 710.47,742.05 713.9,732.97 717.33,737.2 720.75,740.03 724.18,739.85 727.6,739.71 731.03,741.66 734.45,738.19 737.88,737.83 741.31,740.42 744.73,739.62 748.16,742.67 751.58,739.06 755.01,744.44 758.43,740.08 761.86,736.46 765.28,740.67 768.71,733.31 772.14,742.12 775.56,739.87 778.99,739.09 782.41,736.61 785.84,735.7 789.26,737.9 792.69,741.68 796.12,734.45 799.54,736.05 802.97,735.3 806.39,740.6 809.82,735.31 813.24,736.46 816.67,733.38 820.1,731.18 823.52,736.9 826.95,734.77 830.37,734.04 833.8,735.56 837.22,732.45 840.65,732.53 844.08,735.83 847.5,735.77 850.93,733.13 854.35,737.94 857.78,733 861.2,731.71 864.63,731.72 868.06,735.93 871.48,729.43 874.91,728.67 878.33,736.09 881.76,729.29 885.18,730.16 888.61,731.04 892.04,734.83 895.46,730.55 898.89,735.43 902.31,732.62 905.74,731.01 909.16,731.94 912.59,734 916.02,732.68 919.44,734.06 922.87,733.33 926.29,736 929.72,737.18 933.14,735.96 936.57,737.78 940,732.41 943.42,729.14 946.85,733.75 950.27,732.76 953.7,738.11 957.12,736.12 960.55,738.57 963.98,734.61 967.4,736 970.83,738.77 974.25,733.16 977.68,736.55 981.1,734.67 984.53,734.42 987.96,733.2 991.38,733.56 994.81,736.49 998.23,737.14 1001.66,738.15 1005.08,739.15 1008.51,732.66 1011.94,738.11 1015.36,725.54 1018.79,727.11 1022.21,738.61 1025.64,734.75 1029.06,737.45 1032.49,738.98 1035.92,733.41 1039.34,740.17 1042.77,739.12 1046.19,735.71 1049.62,733.82 1053.04,737.37 1056.47,739.33 1059.9,732.25 1063.32,737.43 1066.75,738.94 1070.17,737.24 1073.6,734.8 1077.02,744.09 1080.45,740.02 1083.88,735.94 1087.3,736.37 1090.73,737.5 1094.15,737.99 1097.58,736.31 1101,735.18 1104.43,739 1107.86,738.69 1111.28,735.89 1114.71,738.4 1118.13,740.63 1121.56,737.97 1124.98,740.06 1128.41,736.03 1131.83,735.38 1135.26,738.81 1138.69,737.57 1142.11,736.39 1145.54,734.25 1148.96,734.73 1152.39,736.37 1155.81,736.08 1159.24,733.68 1162.67,735.23 1166.09,735.46 1169.52,739.09 1172.94,736.09 1176.37,735.46 1179.79,736.16 1183.22,738.59 1186.65,740.25 1190.07,734.54 1193.5,734.35 1196.92,735.37 1200.35,737.61 1203.77,736.49 1207.2,735.46 1210.63,733.45 1214.05,734.8 1217.48,736.77 1220.9,735.94 1224.33,737.35 1227.75,730.32 1231.18,736.02 1234.61,730.89 1238.03,733.44 1241.46,729.72 1244.88,736.28 1248.31,731.95 1251.73,735.62 1255.16,735.44 1258.59,734.98 1262.01,720.06 1265.44,737.29 1268.86,733.02 1272.29,728.23 1275.71,732.66 1279.14,734.79 1282.57,729.45 1285.99,727.3 1289.42,736.01 1292.84,728.64 1296.27,732.59 1299.69,733.71 1303.12,728 1306.55,726.17 1309.97,725.34 1313.4,729.6 1316.82,730.58 1320.25,729.35 1323.67,728.43 1327.1,727.77 1330.53,726.71 1333.95,728.97 1337.38,728.59 1340.8,729.49 1344.23,731.82 1347.65,729.1 1351.08,726.75 1354.51,728.49 1357.93,735.31 1361.36,726.78 1364.78,732.42 1368.21,725.17 1371.63,725.57 1375.06,729.03 1378.49,726.38 1381.91,732.71 1385.34,731.34 1388.76,732.6 1392.19,730.21 1395.61,731 1399.04,730.67 1402.47,731.02 1405.89,727.9 1409.32,731.44 1412.74,732.57 1416.17,731.39" fill="none" stroke="#ff7f0e" stroke-width="3.125" stroke-linejoin="round" stroke-dasharray="11.562 5.000"/>
<path d="M251 904v7.29M423 904v7.29M594 904v7.29M765 904v7.29M937 904v7.29M1108 904v7.29M1279 904v7.29M1450 904v7.29M121 898h-7.29M121 820h-7.29M121 741h-7.29M121 663h-7.29M121 585h-7.29" fill="none" stroke="#000" stroke-width="1.667"/>
<rect x="121" y="529" width="1357" height="375" fill="none" stroke="#000" stroke-width="1.667" stroke-linejoin="miter"/>
<text x="106.0" y="905.6" text-anchor="end">8</text>
<text x="106.0" y="827.6" text-anchor="end">10</text>
<text x="106.0" y="748.6" text-anchor="end">12</text>
<text x="106.0" y="670.6" text-anchor="end">14</text>
<text x="106.0" y="592.6" text-anchor="end">16</text>
<text transform="translate(66.1 717.8) rotate(-90)" text-anchor="middle">Température (°C)</text>
</g>
<g>
<polygon points="182.92,971.6 186.34,971.6 189.77,971.6 193.19,971.6 196.62,971.6 200.04,971.6 203.47,971.6 206.9,971.6 210.32,971.6 213.75,971.6 217.17,971.6 220.6,971.6 224.02,971.6 227.45,971.6 230.88,971.6 234.3,971.6 237.73,971.6 241.15,971.6 244.58,971.6 248,971.6 251.43,971.6 254.86,971.6 258.28,971.6 261.71,971.6 265.13,971.6 268.56,971.6 271.98,971.6 275.41,971.6 278.84,971.6 282.26,971.6 285.69,971.6 289.11,971.6 292.54,971.6 295.96,971.6 299.39,971.6 302.82,971.6 306.24,971.6 309.67,971.6 313.09,971.6 316.52,971.6 319.94,971.6 323.37,971.6 326.8,971.6 330.22,971.6 333.65,971.6 337.07,971.6 340.5,971.6 343.92,971.6 347.35,971.6 350.78,971.6 354.2,971.6 357.63,971.6 361.05,971.6 364.48,971.6 367.9,971.6 371.33,971.6 374.76,971.6 378.18,971.6 381.61,971.6 385.03,971.6 388.46,971.6 391.88,971.6 395.31,971.6 398.74,971.6 402.16,971.6 405.59,971.6 409.01,971.6 412.44,971.6 415.86,971.6 419.29,971.6 422.72,971.6 426.14,971.6 429.57,971.6 432.99,971.6 436.42,971.6 439.84,971.6 443.27,971.6 446.69,971.6 450.12,971.6 453.55,971.6 456.97,971.6 460.4,971.6 463.82,971.6 467.25,971.6 470.67,971.6 474.1,971.6 477.53,971.6 480.95,971.6 484.38,971.6 487.8,971.6 491.23,971.6 494.65,971.6 498.08,971.6 501.51,971.6 504.93,971.6 508.36,971.6 511.78,971.6 515.21,971.6 518.63,971.6 522.06,971.6 525.49,971.6 528.91,971.6 532.34,971.6 535.76,971.6 539.19,971.6 542.61,971.6 546.04,971.6 549.47,971.6 552.89,971.6 556.32,971.6 559.74,971.6 563.17,971.6 566.59,971.6 570.02,971.6 573.45,971.6 576.87,971.6 580.3,971.6 583.72,971.6 587.15,971.6 590.57,971.6 594,971.6 597.43,971.6 600.85,971.6 604.28,971.6 607.7,971.6 611.13,971.6 614.55,971.6 617.98,971.6 621.41,971.6 624.83,954.8 628.26,950.6 631.68,971.6 635.11,971.6 638.53,971.6 641.96,965.3 645.39,971.6 648.81,971.6 652.24,961.1 655.66,971.6 659.09,971.6 662.51,971.6 665.94,971.6 669.37,971.6 672.79,971.6 676.22,971.6 679.64,971.6 683.07,971.6 686.49,971.6 689.92,971.6 693.35,971.6 696.77,971.6 700.2,971.6 703.62,971.6 707.05,971.6 710.47,971.6 713.9,971.6 717.33,971.6 720.75,971.6 724.18,971.6 727.6,971.6 731.03,971.6 734.45,971.6 737.88,971.6 741.31,971.6 744.73,971.6 748.16,971.6 751.58,971.6 755.01,971.6 758.43,971.6 761.86,971.6 765.28,952.7 768.71,971.6 772.14,971.6 775.56,971.6 778.99,971.6 782.41,961.1 785.84,950.6 789.26,960.05 792.69,971.6 796.12,961.1 799.54,971.6 802.97,971.6 806.39,971.6 809.82,971.6 813.24,971.6 816.67,971.6 820.1,971.6 823.52,971.6 826.95,971.6 830.37,971.6 833.8,971.6 837.22,971.6 840.65,971.6 844.08,971.6 847.5,971.6 850.93,971.6 854.35,971.6 857.78,971.6 861.2,971.6 864.63,971.6 868.06,971.6 871.48,971.6 874.91,971.6 878.33,971.6 881.76,971.6 885.18,971.6 888.61,971.6 892.04,971.6 895.46,971.6 898.89,971.6 902.31,971.6 905.74,971.6 909.16,971.6 912.59,971.6 916.02,971.6 919.44,971.6 922.87,971.6 926.29,971.6 929.72,971.6 933.14,971.6 936.57,971.6 940,971.6 943.42,971.6 946.85,971.6 950.27,971.6 953.7,971.6 957.12,971.6 960.55,971.6 963.98,971.6 967.4,971.6 970.83,971.6 974.25,971.6 977.68,971.6 981.1,971.6 984.53,971.6 987.96,971.6 991.38,971.6 994.81,971.6 998.23,971.6 1001.66,971.6 1005.08,971.6 1008.51,971.6 1011.94,971.6 1015.36,971.6 1018.79,971.6 1022.21,971.6 1025.64,971.6 1029.06,971.6 1032.49,971.6 1035.92,971.6 1039.34,971.6 1042.77,971.6 1046.19,971.6 1049.62,971.6 1053.04,971.6 1056.47,971.6 1059.9,967.4 1063.32,971.6 1066.75,971.6 1070.17,950.6 1073.6,971.6 1077.02,971.6 1080.45,961.1 1083.88,968.45 1087.3,959 1090.73,950.6 1094.15,971.6 1097.58,971.6 1101,961.1 1104.43,961.1 1107.86,971.6 1111.28,950.6 1114.71,954.8 1118.13,952.7 1121.56,950.6 1124.98,950.6 1128.41,950.6 1131.83,950.6 1135.26,961.1 1138.69,961.1 1142.11,950.6 1145.54,961.1 1148.96,950.6 1152.39,950.6 1155.81,950.6 1159.24,950.6 1162.67,950.6 1166.09,954.8 1169.52,950.6 1172.94,950.6 1176.37,971.6 1179.79,950.6 1183.22,971.6 1186.65,950.6 1190.07,950.6 1193.5,951.65 1196.92,954.8 1200.35,971.6 1203.77,971.6 1207.2,971.6 1210.63,971.6 1214.05,971.6 1217.48,971.6 1220.9,965.3 1224.33,971.6 1227.75,971.6 1231.18,971.6 1234.61,961.1 1238.03,950.6 1241.46,971.6 1244.88,971.6 1248.31,961.1 1251.73,954.8 1255.16,950.6 1258.59,971.6 1262.01,971.6 1265.44,971.6 1268.86,965.3 1272.29,971.6 1275.71,971.6 1279.14,971.6 1282.57,971.6 1285.99,961.1 1289.42,971.6 1292.84,971.6 1296.27,971.6 1299.69,971.6 1303.12,971.6 1306.55,971.6 1309.97,971.6 1313.4,971.6 1316.82,969.5 1320.25,970.55 1323.67,965.3 1327.1,950.6 1330.53,961.1 1333.95,950.6 1337.38,971.6 1340.8,971.6 1344.23,971.6 1347.65,961.1 1351.08,971.6 1354.51,971.6 1357.93,971.6 1361.36,971.6 1364.78,961.1 1368.21,965.3 1371.63,954.8 1375.06,971.6 1378.49,971.6 1381.91,971.6 1385.34,971.6 1388.76,971.6 1392.19,971.6 1395.61,971.6 1399.04,971.6 1402.47,971.6 1405.89,971.6 1409.32,971.6 1412.74,971.6 1416.17,971.6 1416.17,1215.2 1412.74,1223.6 1409.32,1222.55 1405.89,1223.6 1402.47,1223.6 1399.04,1221.5 1395.61,1213.1 1392.19,1209.95 1388.76,1202.6 1385.34,1213.1 1381.91,1213.1 1378.49,1202.6 1375.06,1213.1 1371.63,1202.6 1368.21,1202.6 1364.78,1202.6 1361.36,1202.6 1357.93,1202.6 1354.51,1202.6 1351.08,1202.6 1347.65,1202.6 1344.23,1202.6 1340.8,1202.6 1337.38,1202.6 1333.95,1202.6 1330.53,1202.6 1327.1,1202.6 1323.67,1202.6 1320.25,1202.6 1316.82,1183.7 1313.4,1194.2 1309.97,1192.1 1306.55,1192.1 1303.12,1181.6 1299.69,1181.6 1296.27,1181.6 1292.84,1181.6 1289.42,1181.6 1285.99,1181.6 1282.57,1181.6 1279.14,1192.1 1275.71,1182.65 1272.29,1181.6 1268.86,1178.45 1265.44,1181.6 1262.01,1181.6 1258.59,1179.5 1255.16,1171.1 1251.73,1181.6 1248.31,1181.6 1244.88,1181.6 1241.46,1181.6 1238.03,1173.2 1234.61,1180.55 1231.18,1176.35 1227.75,1171.1 1224.33,1181.6 1220.9,1181.6 1217.48,1178.45 1214.05,1171.1 1210.63,1171.1 1207.2,1160.6 1203.77,1161.65 1200.35,1165.85 1196.92,1171.1 1193.5,1160.6 1190.07,1160.6 1186.65,1160.6 1183.22,1169 1179.79,1171.1 1176.37,1171.1 1172.94,1171.1 1169.52,1171.1 1166.09,1160.6 1162.67,1171.1 1159.24,1160.6 1155.81,1160.6 1152.39,1160.6 1148.96,1165.85 1145.54,1169 1142.11,1160.6 1138.69,1160.6 1135.26,1160.6 1131.83,1160.6 1128.41,1160.6 1124.98,1160.6 1121.56,1160.6 1118.13,1160.6 1114.71,1155.35 1111.28,1150.1 1107.86,1159.55 1104.43,1150.1 1101,1150.1 1097.58,1160.6 1094.15,1150.1 1090.73,1150.1 1087.3,1139.6 1083.88,1150.1 1080.45,1157.45 1077.02,1160.6 1073.6,1160.6 1070.17,1160.6 1066.75,1158.5 1063.32,1139.6 1059.9,1150.1 1056.47,1150.1 1053.04,1149.05 1049.62,1144.85 1046.19,1140.65 1042.77,1148 1039.34,1139.6 1035.92,1139.6 1032.49,1139.6 1029.06,1139.6 1025.64,1139.6 1022.21,1139.6 1018.79,1139.6 1015.36,1139.6 1011.94,1139.6 1008.51,1139.6 1005.08,1139.6 1001.66,1139.6 998.23,1139.6 994.81,1139.6 991.38,1139.6 987.96,1139.6 984.53,1139.6 981.1,1129.1 977.68,1129.1 974.25,1139.6 970.83,1127 967.4,1127 963.98,1127 960.55,1133.3 957.12,1135.4 953.7,1139.6 950.27,1139.6 946.85,1131.2 943.42,1139.6 940,1139.6 936.57,1139.6 933.14,1139.6 929.72,1139.6 926.29,1139.6 922.87,1139.6 919.44,1139.6 916.02,1133.3 912.59,1133.3 909.16,1139.6 905.74,1139.6 902.31,1139.6 898.89,1139.6 895.46,1139.6 892.04,1139.6 888.61,1139.6 885.18,1121.75 881.76,1130.15 878.33,1118.6 874.91,1118.6 871.48,1118.6 868.06,1118.6 864.63,1118.6 861.2,1118.6 857.78,1118.6 854.35,1118.6 850.93,1118.6 847.5,1118.6 844.08,1118.6 840.65,1118.6 837.22,1118.6 833.8,1118.6 830.37,1118.6 826.95,1118.6 823.52,1118.6 820.1,1118.6 816.67,1118.6 813.24,1118.6 809.82,1118.6 806.39,1118.6 802.97,1118.6 799.54,1118.6 796.12,1118.6 792.69,1118.6 789.26,1118.6 785.84,1099.7 782.41,1109.15 778.99,1118.6 775.56,1118.6 772.14,1118.6 768.71,1107.05 765.28,1118.6 761.86,1117.55 758.43,1116.5 755.01,1118.6 751.58,1118.6 748.16,1118.6 744.73,1118.6 741.31,1116.5 737.88,1108.1 734.45,1097.6 731.03,1097.6 727.6,1097.6 724.18,1097.6 720.75,1097.6 717.33,1097.6 713.9,1097.6 710.47,1097.6 707.05,1097.6 703.62,1097.6 700.2,1097.6 696.77,1097.6 693.35,1097.6 689.92,1097.6 686.49,1097.6 683.07,1097.6 679.64,1097.6 676.22,1097.6 672.79,1097.6 669.37,1097.6 665.94,1097.6 662.51,1097.6 659.09,1097.6 655.66,1097.6 652.24,1097.6 648.81,1097.6 645.39,1097.6 641.96,1097.6 638.53,1097.6 635.11,1097.6 631.68,1097.6 628.26,1097.6 624.83,1097.6 621.41,1097.6 617.98,1109.15 614.55,1101.8 611.13,1097.6 607.7,1101.8 604.28,1107.05 600.85,1118.6 597.43,1118.6 594,1118.6 590.57,1139.6 587.15,1139.6 583.72,1139.6 580.3,1154.3 576.87,1161.65 573.45,1165.85 570.02,1166.9 566.59,1172.15 563.17,1181.6 559.74,1181.6 556.32,1171.1 552.89,1181.6 549.47,1181.6 546.04,1181.6 542.61,1181.6 539.19,1181.6 535.76,1192.1 532.34,1181.6 528.91,1202.6 525.49,1192.1 522.06,1196.3 518.63,1202.6 515.21,1200.5 511.78,1190 508.36,1202.6 504.93,1181.6 501.51,1181.6 498.08,1181.6 494.65,1192.1 491.23,1181.6 487.8,1200.5 484.38,1197.35 480.95,1200.5 477.53,1202.6 474.1,1212.05 470.67,1202.6 467.25,1204.7 463.82,1223.6 460.4,1217.3 456.97,1223.6 453.55,1223.6 450.12,1221.5 446.69,1213.1 443.27,1223.6 439.84,1222.55 436.42,1223.6 432.99,1223.6 429.57,1223.6 426.14,1223.6 422.72,1225.7 419.29,1235.15 415.86,1244.6 412.44,1223.6 409.01,1244.6 405.59,1234.1 402.16,1223.6 398.74,1227.8 395.31,1223.6 391.88,1234.1 388.46,1244.6 385.03,1244.6 381.61,1244.6 378.18,1244.6 374.76,1234.1 371.33,1223.6 367.9,1223.6 364.48,1239.35 361.05,1255.1 357.63,1255.1 354.2,1265.6 350.78,1265.6 347.35,1255.1 343.92,1265.6 340.5,1244.6 337.07,1265.6 333.65,1255.1 330.22,1250.9 326.8,1244.6 323.37,1263.5 319.94,1265.6 316.52,1265.6 313.09,1265.6 309.67,1265.6 306.24,1265.6 302.82,1268.75 299.39,1265.6 295.96,1265.6 292.54,1276.1 289.11,1286.6 285.69,1286.6 282.26,1276.1 278.84,1265.6 275.41,1283.45 271.98,1274.53 268.56,1265.6 265.13,1276.1 261.71,1286.6 258.28,1276.1 254.86,1265.6 251.43,1265.6 248,1265.6 244.58,1271.9 241.15,1265.6 237.73,1265.6 234.3,1276.1 230.88,1286.6 227.45,1286.6 224.02,1286.6 220.6,1286.6 217.17,1286.6 213.75,1286.6 210.32,1286.6 206.9,1286.6 203.47,1286.6 200.04,1286.6 196.62,1286.6 193.19,1286.6 189.77,1290.8 186.34,1286.6 182.92,1286.6" fill="#1f77b4" fill-opacity="0.2" stroke="#1f77b4" stroke-opacity="0.2" stroke-width="2.083" stroke-linejoin="miter"/>
<path d="M251 1308V934M423 1308V934M594 1308V934M765 1308V934M937 1308V934M1108 1308V934M1279 1308V934M1450 1308V934M121 1297H1478M121 1245H1478M121 1192H1478M121 1140H1478M121 1087H1478M121 1035H1478M121 982H1478" fill="none" stroke="#b0b0b0" stroke-opacity="0.5" stroke-width="1.667" stroke-dasharray="1.667 2.750"/>
<path d="M594 1308V934" fill="none" stroke="#000" stroke-width="2.083" stroke-dasharray="7.708 3.333"/>
<polyline points="182.92,1146.74 186.34,1145.48 189.77,1148.42 193.19,1142.54 196.62,1142.12 200.04,1144.85 203.47,1142.12 206.9,1141.07 210.32,1143.17 213.75,1142.12 217.17,1143.38 220.6,1143.8 224.02,1142.12 227.45,1144.85 230.88,1142.12 234.3,1140.02 237.73,1137.5 241.15,1138.55 244.58,1137.5 248,1132.25 251.43,1132.04 254.86,1131.2 258.28,1134.14 261.71,1137.5 265.13,1131.62 268.56,1132.67 271.98,1132.67 275.41,1132.04 278.84,1132.67 282.26,1132.67 285.69,1134.56 289.11,1132.67 292.54,1131.2 295.96,1131.2 299.39,1127.84 302.82,1127.42 306.24,1126.37 309.67,1130.78 313.09,1131.62 316.52,1132.04 319.94,1131.2 323.37,1130.15 326.8,1128.68 330.22,1126.37 333.65,1131.2 337.07,1133.09 340.5,1124.27 343.92,1128.05 347.35,1131.62 350.78,1133.93 354.2,1130.78 357.63,1126.58 361.05,1127.84 364.48,1125.32 367.9,1124.9 371.33,1124.69 374.76,1123.22 378.18,1125.32 381.61,1124.27 385.03,1125.32 388.46,1125.74 391.88,1120.7 395.31,1120.07 398.74,1122.38 402.16,1122.8 405.59,1123.22 409.01,1121.96 412.44,1120.28 415.86,1124.06 419.29,1121.54 422.72,1120.7 426.14,1116.5 429.57,1120.28 432.99,1119.44 436.42,1118.18 439.84,1117.76 443.27,1119.02 446.69,1116.5 450.12,1116.5 453.55,1114.82 456.97,1113.77 460.4,1111.88 463.82,1111.67 467.25,1110.83 470.67,1108.1 474.1,1112.93 477.53,1111.04 480.95,1108.1 484.38,1109.15 487.8,1106.84 491.23,1110.2 494.65,1102.43 498.08,1105.37 501.51,1105.58 504.93,1105.58 508.36,1100.12 511.78,1102.64 515.21,1102.43 518.63,1103.06 522.06,1101.8 525.49,1100.12 528.91,1100.54 532.34,1096.34 535.76,1099.7 539.19,1098.65 542.61,1096.55 546.04,1096.97 549.47,1096.34 552.89,1095.5 556.32,1091.3 559.74,1090.67 563.17,1092.35 566.59,1088.15 570.02,1085 573.45,1082.27 576.87,1081.85 580.3,1077.65 583.72,1071.77 587.15,1069.67 590.57,1064 594,1056.86 597.43,1056.65 600.85,1056.02 604.28,1052.45 607.7,1048.46 611.13,1046.78 614.55,1046.78 617.98,1046.36 621.41,1041.74 624.83,1038.8 628.26,1039.22 631.68,1040.06 635.11,1040.9 638.53,1038.8 641.96,1039.22 645.39,1039.43 648.81,1039.22 652.24,1038.9 655.66,1038.59 659.09,1038.49 662.51,1038.38 665.94,1038.8 669.37,1037.75 672.79,1038.8 676.22,1039.64 679.64,1040.27 683.07,1040.9 686.49,1041.74 689.92,1041.53 693.35,1041.32 696.77,1043 700.2,1042.16 703.62,1042.58 707.05,1043.84 710.47,1043.42 713.9,1043.63 717.33,1043.63 720.75,1043.63 724.18,1044.68 727.6,1046.15 731.03,1044.68 734.45,1045.94 737.88,1046.57 741.31,1046.78 744.73,1048.25 748.16,1046.78 751.58,1046.57 755.01,1047.62 758.43,1048.25 761.86,1048.67 765.28,1049.72 768.71,1050.98 772.14,1051.82 775.56,1051.19 778.99,1050.98 782.41,1049.09 785.84,1049.3 789.26,1050.35 792.69,1051.82 796.12,1051.4 799.54,1052.03 802.97,1053.5 806.39,1054.34 809.82,1054.55 813.24,1054.76 816.67,1053.5 820.1,1055.18 823.52,1054.34 826.95,1056.02 830.37,1056.86 833.8,1056.44 837.22,1056.02 840.65,1057.28 844.08,1056.23 847.5,1054.55 850.93,1055.6 854.35,1056.86 857.78,1055.6 861.2,1056.44 864.63,1056.02 868.06,1058.12 871.48,1056.02 874.91,1055.6 878.33,1057.28 881.76,1057.7 885.18,1057.7 888.61,1058.75 892.04,1059.8 895.46,1060.64 898.89,1061.9 902.31,1062.74 905.74,1062.74 909.16,1061.48 912.59,1061.06 916.02,1060.85 919.44,1061.48 922.87,1061.48 926.29,1062.53 929.72,1061.9 933.14,1062.74 936.57,1062.32 940,1063.37 943.42,1063.16 946.85,1062.74 950.27,1064.42 953.7,1063.58 957.12,1061.27 960.55,1062.95 963.98,1064 967.4,1064.42 970.83,1065.26 974.25,1066.52 977.68,1067.78 981.1,1067.36 984.53,1066.1 987.96,1066.1 991.38,1065.05 994.81,1068.62 998.23,1069.67 1001.66,1066.52 1005.08,1067.78 1008.51,1067.36 1011.94,1069.04 1015.36,1072.4 1018.79,1071.14 1022.21,1072.4 1025.64,1071.98 1029.06,1069.46 1032.49,1068.41 1035.92,1070.93 1039.34,1072.4 1042.77,1073.66 1046.19,1072.4 1049.62,1074.92 1053.04,1073.03 1056.47,1075.97 1059.9,1073.87 1063.32,1073.03 1066.75,1074.29 1070.17,1071.77 1073.6,1075.34 1077.02,1074.92 1080.45,1073.03 1083.88,1070.51 1087.3,1070.09 1090.73,1072.4 1094.15,1077.02 1097.58,1076.6 1101,1073.66 1104.43,1073.45 1107.86,1075.97 1111.28,1073.87 1114.71,1075.97 1118.13,1081.43 1121.56,1080.38 1124.98,1077.86 1128.41,1079.33 1131.83,1080.38 1135.26,1081.43 1138.69,1082.27 1142.11,1083.11 1145.54,1083.74 1148.96,1084.37 1152.39,1081.43 1155.81,1081.43 1159.24,1080.59 1162.67,1078.49 1166.09,1082.06 1169.52,1083.74 1172.94,1082.9 1176.37,1086.26 1179.79,1084.37 1183.22,1086.26 1186.65,1083.53 1190.07,1080.8 1193.5,1082.9 1196.92,1085.21 1200.35,1087.1 1203.77,1086.89 1207.2,1086.26 1210.63,1089.41 1214.05,1088.36 1217.48,1089.2 1220.9,1088.57 1224.33,1090.67 1227.75,1091.09 1231.18,1092.14 1234.61,1092.56 1238.03,1091.93 1241.46,1092.56 1244.88,1094.24 1248.31,1093.19 1251.73,1092.98 1255.16,1092.77 1258.59,1093.19 1262.01,1096.34 1265.44,1092.77 1268.86,1093.4 1272.29,1094.87 1275.71,1095.92 1279.14,1096.76 1282.57,1094.66 1285.99,1094.66 1289.42,1096.34 1292.84,1097.81 1296.27,1097.39 1299.69,1095.5 1303.12,1094.66 1306.55,1096.76 1309.97,1095.29 1313.4,1097.81 1316.82,1095.29 1320.25,1099.49 1323.67,1097.81 1327.1,1097.6 1330.53,1097.81 1333.95,1099.49 1337.38,1101.8 1340.8,1099.07 1344.23,1097.6 1347.65,1098.44 1351.08,1098.23 1354.51,1099.7 1357.93,1097.81 1361.36,1098.44 1364.78,1097.81 1368.21,1096.97 1371.63,1099.49 1375.06,1101.17 1378.49,1099.07 1381.91,1099.91 1385.34,1098.86 1388.76,1098.86 1392.19,1099.07 1395.61,1100.33 1399.04,1101.59 1402.47,1099.91 1405.89,1100.54 1409.32,1099.7 1412.74,1102.64 1416.17,1100.33" fill="none" stroke="#1f77b4" stroke-width="3.125" stroke-linejoin="round" stroke-linecap="square"/>
<polyline points="182.92,1055.6 186.34,1055.6 189.77,1076.6 193.19,1066.1 196.62,1073.45 200.04,1076.6 203.47,1066.1 206.9,1059.8 210.32,1070.3 213.75,1076.6 217.17,1070.3 220.6,1067.15 224.02,1056.65 227.45,1070.3 230.88,1061.9 234.3,1076.6 237.73,1076.6 241.15,1076.6 244.58,1076.6 248,1059.93 251.43,1058.75 254.86,1055.6 258.28,1055.6 261.71,1055.6 265.13,1055.6 268.56,1055.6 271.98,1055.6 275.41,1055.6 278.84,1055.6 282.26,1055.6 285.69,1065.05 289.11,1055.6 292.54,1055.6 295.96,1055.6 299.39,1055.6 302.82,1055.6 306.24,1055.6 309.67,1055.6 313.09,1055.6 316.52,1055.6 319.94,1055.6 323.37,1055.6 326.8,1055.6 330.22,1055.6 333.65,1055.6 337.07,1055.6 340.5,1055.6 343.92,1055.6 347.35,1055.6 350.78,1055.6 354.2,1055.6 357.63,1055.6 361.05,1055.6 364.48,1055.6 367.9,1055.6 371.33,1055.6 374.76,1055.6 378.18,1055.6 381.61,1055.6 385.03,1055.6 388.46,1055.6 391.88,1055.6 395.31,1055.6 398.74,1055.6 402.16,1055.6 405.59,1055.6 409.01,1055.6 412.44,1055.6 415.86,1055.6 419.29,1055.6 422.72,1055.6 426.14,1055.6 429.57,1055.6 432.99,1055.6 436.42,1055.6 439.84,1055.6 443.27,1055.6 446.69,1055.6 450.12,1055.6 453.55,1055.6 456.97,1055.6 460.4,1055.6 463.82,1055.6 467.25,1055.6 470.67,1055.6 474.1,1055.6 477.53,1055.6 480.95,1055.6 484.38,1055.6 487.8,1055.6 491.23,1055.6 494.65,1055.6 498.08,1055.6 501.51,1055.6 504.93,1055.6 508.36,1055.6 511.78,1047.2 515.21,1055.6 518.63,1047.2 522.06,1053.5 525.49,1036.7 528.91,1034.6 532.34,1035.65 535.76,1045.1 539.19,1054.55 542.61,1055.6 546.04,1055.6 549.47,1055.6 552.89,1055.6 556.32,1055.6 559.74,1054.55 563.17,1051.4 566.59,1049.3 570.02,1046.15 573.45,1036.7 576.87,1055.6 580.3,1046.15 583.72,1034.6 587.15,1034.6 590.57,1034.6 594,1034.6 597.43,1034.6 600.85,1034.6 604.28,1034.6 607.7,1034.6 611.13,1034.6 614.55,1034.6 617.98,1034.6 621.41,1034.6 624.83,1024.1 628.26,1024.1 631.68,1030.4 635.11,1034.6 638.53,1013.6 641.96,1013.6 645.39,1013.6 648.81,1013.6 652.24,1013.6 655.66,1013.6 659.09,1013.6 662.51,1013.6 665.94,1013.6 669.37,1013.6 672.79,1013.6 676.22,1013.6 679.64,1013.6 683.07,1013.6 686.49,1013.6 689.92,1013.6 693.35,1013.6 696.77,1013.6 700.2,1013.6 703.62,1013.6 707.05,1013.6 710.47,1013.6 713.9,1013.6 717.33,1013.6 720.75,1013.6 724.18,1013.6 727.6,1013.6 731.03,1013.6 734.45,1013.6 737.88,1013.6 741.31,1013.6 744.73,1013.6 748.16,1013.6 751.58,1013.6 755.01,1013.6 758.43,1013.6 761.86,1013.6 765.28,1013.6 768.71,1013.6 772.14,1013.6 775.56,1013.6 778.99,1013.6 782.41,1013.6 785.84,1013.6 789.26,1013.6 792.69,1013.6 796.12,1013.6 799.54,1013.6 802.97,1013.6 806.39,1013.6 809.82,1013.6 813.24,1013.6 816.67,1013.6 820.1,1013.6 823.52,1013.6 826.95,1013.6 830.37,1013.6 833.8,1013.6 837.22,1013.6 840.65,1013.6 844.08,1013.6 847.5,1013.6 850.93,1013.6 854.35,1013.6 857.78,1013.6 861.2,1013.6 864.63,1013.6 868.06,1013.6 871.48,1013.6 874.91,1013.6 878.33,1013.6 881.76,1013.6 885.18,1013.6 888.61,1013.6 892.04,1013.6 895.46,1013.6 898.89,1013.6 902.31,1013.6 905.74,1013.6 909.16,1013.6 912.59,1013.6 916.02,1013.6 919.44,1013.6 922.87,1013.6 926.29,1013.6 929.72,1013.6 933.14,1013.6 936.57,1013.6 940,1013.6 943.42,1013.6 946.85,1013.6 950.27,1013.6 953.7,1013.6 957.12,1013.6 960.55,1013.6 963.98,1013.6 967.4,1013.6 970.83,1023.05 974.25,1024.1 977.68,1034.6 981.1,1033.55 984.53,1026.2 987.96,1033.55 991.38,1015.7 994.81,1024.1 998.23,1034.6 1001.66,1013.6 1005.08,1030.4 1008.51,1030.4 1011.94,1034.6 1015.36,1034.6 1018.79,1034.6 1022.21,1034.6 1025.64,1034.6 1029.06,1034.6 1032.49,1034.6 1035.92,1034.6 1039.34,1034.6 1042.77,1034.6 1046.19,1034.6 1049.62,1034.6 1053.04,1034.6 1056.47,1034.6 1059.9,1034.6 1063.32,1034.6 1066.75,1034.6 1070.17,1034.6 1073.6,1034.6 1077.02,1034.6 1080.45,1034.6 1083.88,1034.6 1087.3,1034.6 1090.73,1034.6 1094.15,1034.6 1097.58,1034.6 1101,1034.6 1104.43,1034.6 1107.86,1034.6 1111.28,1034.6 1114.71,1034.6 1118.13,1034.6 1121.56,1034.6 1124.98,1034.6 1128.41,1034.6 1131.83,1034.6 1135.26,1034.6 1138.69,1034.6 1142.11,1034.6 1145.54,1034.6 1148.96,1034.6 1152.39,1034.6 1155.81,1034.6 1159.24,1034.6 1162.67,1034.6 1166.09,1034.6 1169.52,1034.6 1172.94,1034.6 1176.37,1034.6 1179.79,1034.6 1183.22,1034.6 1186.65,1034.6 1190.07,1034.6 1193.5,1034.6 1196.92,1034.6 1200.35,1034.6 1203.77,1034.6 1207.2,1034.6 1210.63,1034.6 1214.05,1034.6 1217.48,1034.6 1220.9,1034.6 1224.33,1034.6 1227.75,1034.6 1231.18,1034.6 1234.61,1034.6 1238.03,1034.6 1241.46,1034.6 1244.88,1034.6 1248.31,1034.6 1251.73,1034.6 1255.16,1034.6 1258.59,1034.6 1262.01,1034.6 1265.44,1034.6 1268.86,1034.6 1272.29,1034.6 1275.71,1034.6 1279.14,1034.6 1282.57,1034.6 1285.99,1034.6 1289.42,1034.6 1292.84,1034.6 1296.27,1034.6 1299.69,1034.6 1303.12,1034.6 1306.55,1034.6 1309.97,1034.6 1313.4,1034.6 1316.82,1034.6 1320.25,1034.6 1323.67,1034.6 1327.1,1034.6 1330.53,1034.6 1333.95,1034.6 1337.38,1034.6 1340.8,1034.6 1344.23,1034.6 1347.65,1034.6 1351.08,1034.6 1354.51,1034.6 1357.93,1034.6 1361.36,1034.6 1364.78,1034.6 1368.21,1034.6 1371.63,1034.6 1375.06,1034.6 1378.49,1034.6 1381.91,1034.6 1385.34,1034.6 1388.76,1034.6 1392.19,1034.6 1395.61,1034.6 1399.04,1034.6 1402.47,1034.6 1405.89,1034.6 1409.32,1034.6 1412.74,1034.6 1416.17,1034.6" fill="none" stroke="#ff7f0e" stroke-width="3.125" stroke-linejoin="round" stroke-dasharray="11.562 5.000"/>
<path d="M251 1308v7.29M423 1308v7.29M594 1308v7.29M765 1308v7.29M937 1308v7.29M1108 1308v7.29M1279 1308v7.29M1450 1308v7.29M121 1297h-7.29M121 1245h-7.29M121 1192h-7.29M121 1140h-7.29M121 1087h-7.29M121 1035h-7.29M121 982h-7.29" fill="none" stroke="#000" stroke-width="1.667"/>
<rect x="121" y="934" width="1357" height="374" fill="none" stroke="#000" stroke-width="1.667" stroke-linejoin="miter"/>
<text x="106.0" y="1304.6" text-anchor="end">82.5</text>
<text x="106.0" y="1252.6" text-anchor="end">85.0</text>
<text x="106.0" y="1199.6" text-anchor="end">87.5</text>
<text x="106.0" y="1147.6" text-anchor="end">90.0</text>
<text x="106.0" y="1094.6" text-anchor="end">92.5</text>
<text x="106.0" y="1042.6" text-anchor="end">95.0</text>
<text x="106.0" y="989.6" text-anchor="end">97.5</text>
<text transform="translate(45.5 1122.3) rotate(-90)" text-anchor="middle">Humidité relative (%)</text>
</g>
<g>
<polygon points="182.92,1364.18 186.34,1367.22 189.77,1361.96 193.19,1358.43 196.62,1360.85 200.04,1362.91 203.47,1368.75 206.9,1372.91 210.32,1366.28 213.75,1371.75 217.17,1365.42 220.6,1369.44 224.02,1375.28 227.45,1355.13 230.88,1369.1 234.3,1372.68 237.73,1366.31 241.15,1373.76 244.58,1374.02 248,1375.01 251.43,1379.02 254.86,1399.88 258.28,1373.25 261.71,1391.86 265.13,1391.83 268.56,1378.72 271.98,1387.12 275.41,1384.75 278.84,1374.7 282.26,1382.53 285.69,1383.62 289.11,1389.7 292.54,1376.41 295.96,1376.17 299.39,1368.48 302.82,1364.59 306.24,1389.38 309.67,1379.2 313.09,1367.42 316.52,1376.27 319.94,1364.46 323.37,1381.98 326.8,1384.43 330.22,1359.85 333.65,1372.94 337.07,1369.9 340.5,1361.13 343.92,1372.87 347.35,1364.07 350.78,1375.61 354.2,1382.6 357.63,1372.97 361.05,1381.53 364.48,1376.24 367.9,1366.18 371.33,1371.78 374.76,1360.99 378.18,1386.97 381.61,1372.6 385.03,1380.36 388.46,1355.13 391.88,1372.45 395.31,1371.25 398.74,1387.97 402.16,1365.4 405.59,1373.52 409.01,1377.37 412.44,1365.32 415.86,1356.81 419.29,1376.61 422.72,1367.53 426.14,1379.51 429.57,1381.27 432.99,1381.03 436.42,1383.64 439.84,1378.83 443.27,1366.75 446.69,1363.06 450.12,1373.84 453.55,1383.17 456.97,1376.34 460.4,1388.75 463.82,1380.25 467.25,1390.04 470.67,1388.09 474.1,1382.87 477.53,1389.65 480.95,1370.92 484.38,1393.04 487.8,1389.03 491.23,1382.45 494.65,1377.63 498.08,1391.5 501.51,1389.81 504.93,1384.52 508.36,1362.16 511.78,1388.01 515.21,1389.46 518.63,1385.6 522.06,1393.24 525.49,1387.44 528.91,1386.79 532.34,1378.01 535.76,1381.44 539.19,1388.02 542.61,1374.46 546.04,1369.26 549.47,1383.76 552.89,1380.82 556.32,1360.9 559.74,1378.13 563.17,1369.23 566.59,1381.74 570.02,1381.36 573.45,1389.45 576.87,1375.44 580.3,1384.82 583.72,1374.97 587.15,1400.28 590.57,1390.8 594,1378.34 597.43,1380.39 600.85,1381.24 604.28,1375.51 607.7,1387.17 611.13,1379.33 614.55,1376.14 617.98,1373.75 621.41,1382.96 624.83,1388.66 628.26,1379.08 631.68,1382.88 635.11,1388.57 638.53,1384.25 641.96,1355.13 645.39,1390.97 648.81,1386.59 652.24,1389.95 655.66,1389.93 659.09,1375.05 662.51,1364.85 665.94,1374.53 669.37,1386.11 672.79,1377.77 676.22,1391.66 679.64,1392.26 683.07,1379.97 686.49,1378.4 689.92,1369.78 693.35,1392.2 696.77,1393.5 700.2,1394.27 703.62,1393.58 707.05,1394.6 710.47,1390.01 713.9,1393.32 717.33,1378.15 720.75,1392.28 724.18,1395.24 727.6,1386.68 731.03,1383.68 734.45,1381.67 737.88,1368.82 741.31,1386.56 744.73,1383.84 748.16,1377.21 751.58,1383.95 755.01,1383.08 758.43,1367.8 761.86,1379.26 765.28,1382.99 768.71,1378.68 772.14,1382 775.56,1389.22 778.99,1366.97 782.41,1387.54 785.84,1368.62 789.26,1385.15 792.69,1390.04 796.12,1385.93 799.54,1384.55 802.97,1386.73 806.39,1395.57 809.82,1406.18 813.24,1398.33 816.67,1404.02 820.1,1407.75 823.52,1394.86 826.95,1403.83 830.37,1392.37 833.8,1377.92 837.22,1381.64 840.65,1380.27 844.08,1386.19 847.5,1375.4 850.93,1388.25 854.35,1405.75 857.78,1398.18 861.2,1380.7 864.63,1377.4 868.06,1389.54 871.48,1381.69 874.91,1391.88 878.33,1383.09 881.76,1379.65 885.18,1367.09 888.61,1384.26 892.04,1391.71 895.46,1382.45 898.89,1377.02 902.31,1386.15 905.74,1385.99 909.16,1385.31 912.59,1396.52 916.02,1365.7 919.44,1377.3 922.87,1395.32 926.29,1377.74 929.72,1385.22 933.14,1375.31 936.57,1369.48 940,1364.37 943.42,1381.98 946.85,1371.68 950.27,1360.87 953.7,1366.81 957.12,1369.65 960.55,1371.03 963.98,1375.62 967.4,1374.63 970.83,1384.45 974.25,1378.8 977.68,1384.26 981.1,1374.25 984.53,1373.58 987.96,1356.35 991.38,1367.08 994.81,1374.99 998.23,1393.45 1001.66,1372.81 1005.08,1393.53 1008.51,1380.04 1011.94,1390.4 1015.36,1380.28 1018.79,1387.23 1022.21,1390.19 1025.64,1373.56 1029.06,1372.31 1032.49,1370.93 1035.92,1378.55 1039.34,1366.97 1042.77,1388.86 1046.19,1383.88 1049.62,1381.49 1053.04,1367.25 1056.47,1384.76 1059.9,1380.66 1063.32,1387.21 1066.75,1376.39 1070.17,1385.89 1073.6,1383.9 1077.02,1381.42 1080.45,1374.3 1083.88,1361.6 1087.3,1371.97 1090.73,1368.23 1094.15,1376.05 1097.58,1376.57 1101,1366.73 1104.43,1374.46 1107.86,1376.64 1111.28,1378.38 1114.71,1373.13 1118.13,1366.37 1121.56,1380.6 1124.98,1359.07 1128.41,1377.35 1131.83,1377.59 1135.26,1378.47 1138.69,1368.76 1142.11,1369.64 1145.54,1371.18 1148.96,1372.89 1152.39,1382.88 1155.81,1367.63 1159.24,1371.41 1162.67,1382.56 1166.09,1380.59 1169.52,1400.2 1172.94,1390.16 1176.37,1368.92 1179.79,1377.2 1183.22,1391.81 1186.65,1370.03 1190.07,1359.98 1193.5,1373.02 1196.92,1372.68 1200.35,1384.2 1203.77,1376.81 1207.2,1391.18 1210.63,1375.67 1214.05,1386.27 1217.48,1374.04 1220.9,1368.61 1224.33,1383.73 1227.75,1383.54 1231.18,1363.64 1234.61,1364.45 1238.03,1366.05 1241.46,1367.64 1244.88,1373.71 1248.31,1372.24 1251.73,1381.53 1255.16,1376.48 1258.59,1382.09 1262.01,1386.17 1265.44,1371.17 1268.86,1389.96 1272.29,1370.45 1275.71,1379.47 1279.14,1374.99 1282.57,1379.41 1285.99,1377.27 1289.42,1383.95 1292.84,1387.11 1296.27,1387.16 1299.69,1376.5 1303.12,1386.73 1306.55,1389.93 1309.97,1372.8 1313.4,1375.88 1316.82,1368.18 1320.25,1384.38 1323.67,1381.56 1327.1,1385.75 1330.53,1390.81 1333.95,1403.14 1337.38,1379.51 1340.8,1375.04 1344.23,1377.88 1347.65,1361.87 1351.08,1374.19 1354.51,1371.86 1357.93,1362.14 1361.36,1378.4 1364.78,1364.59 1368.21,1366.15 1371.63,1359.88 1375.06,1378.23 1378.49,1379.83 1381.91,1381.72 1385.34,1399.89 1388.76,1357.82 1392.19,1377.69 1395.61,1380.65 1399.04,1373.87 1402.47,1381.25 1405.89,1368.36 1409.32,1364.26 1412.74,1384.63 1416.17,1382.02 1416.17,1695.8 1412.74,1695.8 1409.32,1695.8 1405.89,1695.8 1402.47,1695.8 1399.04,1695.8 1395.61,1695.8 1392.19,1695.8 1388.76,1695.8 1385.34,1695.8 1381.91,1695.8 1378.49,1695.8 1375.06,1695.8 1371.63,1695.8 1368.21,1695.8 1364.78,1695.8 1361.36,1695.8 1357.93,1695.8 1354.51,1695.8 1351.08,1695.8 1347.65,1695.8 1344.23,1695.8 1340.8,1695.8 1337.38,1695.8 1333.95,1695.8 1330.53,1687.65 1327.1,1695.8 1323.67,1695.8 1320.25,1695.8 1316.82,1695.8 1313.4,1695.8 1309.97,1695.8 1306.55,1695.8 1303.12,1695.8 1299.69,1695.8 1296.27,1695.8 1292.84,1695.8 1289.42,1695.8 1285.99,1695.8 1282.57,1695.8 1279.14,1695.8 1275.71,1695.8 1272.29,1695.8 1268.86,1695.8 1265.44,1695.8 1262.01,1695.8 1258.59,1695.8 1255.16,1695.8 1251.73,1695.8 1248.31,1695.8 1244.88,1695.8 1241.46,1695.8 1238.03,1695.8 1234.61,1695.8 1231.18,1695.8 1227.75,1695.8 1224.33,1695.8 1220.9,1695.8 1217.48,1695.8 1214.05,1695.8 1210.63,1695.8 1207.2,1695.8 1203.77,1695.8 1200.35,1695.8 1196.92,1695.8 1193.5,1695.8 1190.07,1695.8 1186.65,1695.8 1183.22,1695.8 1179.79,1695.8 1176.37,1695.8 1172.94,1695.8 1169.52,1695.8 1166.09,1695.8 1162.67,1695.8 1159.24,1695.8 1155.81,1695.8 1152.39,1695.8 1148.96,1695.8 1145.54,1695.8 1142.11,1695.8 1138.69,1695.8 1135.26,1695.8 1131.83,1695.8 1128.41,1695.8 1124.98,1695.8 1121.56,1695.8 1118.13,1695.8 1114.71,1695.8 1111.28,1695.8 1107.86,1695.8 1104.43,1695.8 1101,1695.8 1097.58,1695.8 1094.15,1695.8 1090.73,1695.8 1087.3,1695.8 1083.88,1695.8 1080.45,1695.8 1077.02,1695.8 1073.6,1695.8 1070.17,1695.8 1066.75,1695.8 1063.32,1695.8 1059.9,1695.8 1056.47,1695.8 1053.04,1695.8 1049.62,1695.8 1046.19,1695.8 1042.77,1695.8 1039.34,1695.8 1035.92,1695.8 1032.49,1695.8 1029.06,1695.8 1025.64,1695.8 1022.21,1695.8 1018.79,1695.8 1015.36,1695.8 1011.94,1695.8 1008.51,1695.8 1005.08,1695.8 1001.66,1695.8 998.23,1695.8 994.81,1695.8 991.38,1695.8 987.96,1695.8 984.53,1695.8 981.1,1695.8 977.68,1695.8 974.25,1695.8 970.83,1695.8 967.4,1695.8 963.98,1695.8 960.55,1695.8 957.12,1695.8 953.7,1695.8 950.27,1695.8 946.85,1695.8 943.42,1695.8 940,1695.8 936.57,1695.8 933.14,1695.8 929.72,1695.8 926.29,1695.8 922.87,1695.8 919.44,1695.8 916.02,1695.8 912.59,1695.8 909.16,1695.8 905.74,1695.8 902.31,1695.8 898.89,1695.8 895.46,1695.8 892.04,1695.8 888.61,1695.8 885.18,1695.8 881.76,1695.8 878.33,1695.8 874.91,1695.8 871.48,1695.8 868.06,1695.8 864.63,1695.8 861.2,1695.8 857.78,1695.8 854.35,1695.8 850.93,1695.8 847.5,1695.8 844.08,1695.8 840.65,1695.8 837.22,1695.8 833.8,1695.8 830.37,1695.8 826.95,1695.8 823.52,1695.8 820.1,1695.8 816.67,1695.8 813.24,1695.8 809.82,1695.8 806.39,1695.8 802.97,1695.8 799.54,1695.8 796.12,1695.8 792.69,1695.8 789.26,1695.8 785.84,1695.8 782.41,1695.8 778.99,1695.8 775.56,1695.8 772.14,1695.8 768.71,1695.8 765.28,1695.8 761.86,1695.8 758.43,1695.8 755.01,1695.8 751.58,1695.8 748.16,1695.8 744.73,1695.8 741.31,1695.8 737.88,1695.8 734.45,1695.8 731.03,1695.8 727.6,1695.8 724.18,1695.8 720.75,1695.8 717.33,1695.8 713.9,1695.8 710.47,1695.8 707.05,1695.8 703.62,1695.8 700.2,1695.8 696.77,1695.8 693.35,1695.8 689.92,1695.8 686.49,1695.8 683.07,1695.8 679.64,1695.8 676.22,1695.8 672.79,1695.8 669.37,1695.8 665.94,1695.8 662.51,1695.8 659.09,1695.8 655.66,1695.8 652.24,1695.8 648.81,1695.8 645.39,1695.8 641.96,1695.8 638.53,1695.8 635.11,1695.8 631.68,1695.8 628.26,1695.8 624.83,1695.8 621.41,1695.8 617.98,1695.8 614.55,1695.8 611.13,1652.61 607.7,1695.8 604.28,1695.8 600.85,1695.8 597.43,1695.8 594,1695.8 590.57,1695.8 587.15,1652.61 583.72,1652.61 580.3,1695.8 576.87,1695.8 573.45,1695.8 570.02,1678.68 566.59,1695.8 563.17,1695.8 559.74,1695.8 556.32,1652.61 552.89,1695.8 549.47,1695.8 546.04,1695.8 542.61,1695.8 539.19,1695.8 535.76,1652.61 532.34,1695.8 528.91,1695.8 525.49,1652.61 522.06,1695.8 518.63,1695.8 515.21,1695.8 511.78,1695.8 508.36,1695.8 504.93,1695.8 501.51,1695.8 498.08,1695.8 494.65,1695.8 491.23,1695.8 487.8,1695.8 484.38,1695.8 480.95,1695.8 477.53,1695.8 474.1,1695.8 470.67,1695.8 467.25,1695.8 463.82,1695.8 460.4,1695.8 456.97,1695.8 453.55,1695.8 450.12,1695.8 446.69,1695.8 443.27,1695.8 439.84,1695.8 436.42,1695.8 432.99,1695.8 429.57,1695.8 426.14,1695.8 422.72,1695.8 419.29,1695.8 415.86,1695.8 412.44,1695.8 409.01,1695.8 405.59,1695.8 402.16,1695.8 398.74,1695.8 395.31,1695.8 391.88,1695.8 388.46,1695.8 385.03,1695.8 381.61,1695.8 378.18,1695.8 374.76,1695.8 371.33,1695.8 367.9,1695.8 364.48,1695.8 361.05,1695.8 357.63,1695.8 354.2,1695.8 350.78,1695.8 347.35,1695.8 343.92,1695.8 340.5,1687.65 337.07,1695.8 333.65,1695.8 330.22,1695.8 326.8,1695.8 323.37,1695.8 319.94,1695.8 316.52,1695.8 313.09,1695.8 309.67,1695.8 306.24,1695.8 302.82,1695.8 299.39,1695.8 295.96,1695.8 292.54,1695.8 289.11,1695.8 285.69,1695.8 282.26,1695.8 278.84,1695.8 275.41,1695.8 271.98,1695.8 268.56,1695.8 265.13,1695.8 261.71,1695.8 258.28,1695.8 254.86,1695.8 251.43,1695.8 248,1695.8 244.58,1652.61 241.15,1652.61 237.73,1695.8 234.3,1695.8 230.88,1695.8 227.45,1695.8 224.02,1695.8 220.6,1695.8 217.17,1695.8 213.75,1695.8 210.32,1695.8 206.9,1695.8 203.47,1695.8 200.04,1695.8 196.62,1695.8 193.19,1695.8 189.77,1652.61 186.34,1695.8 182.92,1678.28" fill="#1f77b4" fill-opacity="0.2" stroke="#1f77b4" stroke-opacity="0.2" stroke-width="2.083" stroke-linejoin="miter"/>
<path d="M251 1713V1338M423 1713V1338M594 1713V1338M765 1713V1338M937 1713V1338M1108 1713V1338M1279 1713V1338M1450 1713V1338M121 1696H1478M121 1614H1478M121 1533H1478M121 1451H1478M121 1370H1478" fill="none" stroke="#b0b0b0" stroke-opacity="0.5" stroke-width="1.667" stroke-dasharray="1.667 2.750"/>
<path d="M594 1713V1338" fill="none" stroke="#000" stroke-width="2.083" stroke-dasharray="7.708 3.333"/>
<polyline points="182.92,1498.16 186.34,1498.16 189.77,1495.33 193.19,1497.25 196.62,1499.77 200.04,1497.55 203.47,1508.15 206.9,1497.93 210.32,1503.99 213.75,1500.7 217.17,1503.17 220.6,1502.18 224.02,1503.09 227.45,1514.1 230.88,1506.03 234.3,1505.04 237.73,1506.93 241.15,1508.94 244.58,1501.37 248,1506.63 251.43,1505.67 254.86,1504.84 258.28,1514.99 261.71,1511.85 265.13,1507.36 268.56,1511.88 271.98,1511.9 275.41,1517.42 278.84,1505.91 282.26,1510.92 285.69,1514.3 289.11,1507.02 292.54,1511 295.96,1509.7 299.39,1511.45 302.82,1506.76 306.24,1506.81 309.67,1510.35 313.09,1508.61 316.52,1503.46 319.94,1507.84 323.37,1509.22 326.8,1502.55 330.22,1508.63 333.65,1505.66 337.07,1509.23 340.5,1507.54 343.92,1505.88 347.35,1501.66 350.78,1500.08 354.2,1504.9 357.63,1501.01 361.05,1503.76 364.48,1501.17 367.9,1506.02 371.33,1502.57 374.76,1503.95 378.18,1503.01 381.61,1495.31 385.03,1502.48 388.46,1498.84 391.88,1499.81 395.31,1508.17 398.74,1501.76 402.16,1499.49 405.59,1507.93 409.01,1505.39 412.44,1491.46 415.86,1502.25 419.29,1505.9 422.72,1506.29 426.14,1511.11 429.57,1509.92 432.99,1508.82 436.42,1509.77 439.84,1503.51 443.27,1501.84 446.69,1504.73 450.12,1511.35 453.55,1511.24 456.97,1514.64 460.4,1508.85 463.82,1511.57 467.25,1511.72 470.67,1512.01 474.1,1508.9 477.53,1509.05 480.95,1513.19 484.38,1504.35 487.8,1508.62 491.23,1513.51 494.65,1506.4 498.08,1512.07 501.51,1503.44 504.93,1505.09 508.36,1507.79 511.78,1502.04 515.21,1512.68 518.63,1508.87 522.06,1509.7 525.49,1510.75 528.91,1511 532.34,1502.15 535.76,1505.76 539.19,1507.28 542.61,1505.07 546.04,1492.4 549.47,1501.63 552.89,1503.2 556.32,1501.65 559.74,1497.04 563.17,1501.29 566.59,1501.54 570.02,1501.15 573.45,1502.64 576.87,1503.41 580.3,1499.69 583.72,1506.55 587.15,1506.38 590.57,1515.84 594,1504.38 597.43,1501.4 600.85,1506.45 604.28,1501.45 607.7,1505.33 611.13,1502.38 614.55,1503.88 617.98,1513.97 621.41,1504.76 624.83,1505.24 628.26,1511.24 631.68,1515.56 635.11,1513.24 638.53,1514.2 641.96,1511.18 645.39,1514.92 648.81,1515.66 652.24,1512.47 655.66,1514.09 659.09,1516.43 662.51,1519.48 665.94,1520.17 669.37,1520.37 672.79,1521.25 676.22,1520.3 679.64,1515.69 683.07,1521.12 686.49,1521.28 689.92,1527.01 693.35,1516.76 696.77,1521.21 700.2,1517.75 703.62,1518.05 707.05,1521.66 710.47,1517.76 713.9,1524.08 717.33,1520.92 720.75,1513.17 724.18,1520.56 727.6,1515.52 731.03,1516.29 734.45,1518.85 737.88,1511.3 741.31,1516.47 744.73,1513.46 748.16,1509.08 751.58,1520.67 755.01,1515.95 758.43,1512.57 761.86,1516.48 765.28,1512.9 768.71,1515.25 772.14,1517.17 775.56,1516.94 778.99,1521.71 782.41,1524.79 785.84,1526.01 789.26,1519.44 792.69,1523.98 796.12,1516.58 799.54,1525.32 802.97,1528.32 806.39,1530.44 809.82,1520.42 813.24,1526.09 816.67,1525.65 820.1,1529.34 823.52,1518.01 826.95,1525.82 830.37,1518.83 833.8,1517.98 837.22,1512.81 840.65,1519.72 844.08,1517.07 847.5,1518.77 850.93,1520 854.35,1521.77 857.78,1521.45 861.2,1519.36 864.63,1522.17 868.06,1520.22 871.48,1519.01 874.91,1518.11 878.33,1519.57 881.76,1517.29 885.18,1517.91 888.61,1516.06 892.04,1520.6 895.46,1517.69 898.89,1520.1 902.31,1523.9 905.74,1519.72 909.16,1516.24 912.59,1517.78 916.02,1518.71 919.44,1512.59 922.87,1510.63 926.29,1512.26 929.72,1512.05 933.14,1518.48 936.57,1512.2 940,1508.18 943.42,1508.85 946.85,1512.44 950.27,1508.49 953.7,1504.97 957.12,1508.33 960.55,1508.75 963.98,1513.96 967.4,1522.48 970.83,1519.73 974.25,1514.24 977.68,1517.99 981.1,1514.78 984.53,1513.15 987.96,1509.93 991.38,1512.28 994.81,1509.99 998.23,1505.94 1001.66,1511.63 1005.08,1512.42 1008.51,1515.13 1011.94,1508.38 1015.36,1512.56 1018.79,1513.05 1022.21,1517.35 1025.64,1513.03 1029.06,1514.82 1032.49,1512.78 1035.92,1512.97 1039.34,1511.84 1042.77,1506.73 1046.19,1515.65 1049.62,1512.44 1053.04,1514.09 1056.47,1513.29 1059.9,1511.78 1063.32,1509.44 1066.75,1511.93 1070.17,1511.57 1073.6,1510.11 1077.02,1503.61 1080.45,1509.53 1083.88,1512.24 1087.3,1511.65 1090.73,1517.06 1094.15,1509.33 1097.58,1511.11 1101,1509.26 1104.43,1510.69 1107.86,1515.25 1111.28,1512.58 1114.71,1509.69 1118.13,1512.75 1121.56,1504.2 1124.98,1515.92 1128.41,1510.9 1131.83,1509.12 1135.26,1502.11 1138.69,1507.17 1142.11,1503.75 1145.54,1503.45 1148.96,1497.28 1152.39,1494.79 1155.81,1494.8 1159.24,1512.94 1162.67,1509.59 1166.09,1518.38 1169.52,1513.78 1172.94,1514.11 1176.37,1517.14 1179.79,1512.01 1183.22,1502.52 1186.65,1506.77 1190.07,1510.09 1193.5,1509.52 1196.92,1511.5 1200.35,1504.39 1203.77,1505.73 1207.2,1501.58 1210.63,1511.58 1214.05,1504.56 1217.48,1507.32 1220.9,1510.69 1224.33,1509.79 1227.75,1506.85 1231.18,1505.71 1234.61,1509.56 1238.03,1509.35 1241.46,1510.85 1244.88,1511.54 1248.31,1504.07 1251.73,1508.04 1255.16,1505.57 1258.59,1511.97 1262.01,1509.64 1265.44,1511.51 1268.86,1508.02 1272.29,1510.7 1275.71,1506.63 1279.14,1511.35 1282.57,1513.95 1285.99,1516.68 1289.42,1516.28 1292.84,1512.82 1296.27,1516.14 1299.69,1513.63 1303.12,1510.76 1306.55,1508.58 1309.97,1515.3 1313.4,1512.09 1316.82,1514.69 1320.25,1509.79 1323.67,1510.02 1327.1,1508.76 1330.53,1512.88 1333.95,1509.84 1337.38,1513.33 1340.8,1505.58 1344.23,1508.7 1347.65,1508.71 1351.08,1505.28 1354.51,1503.6 1357.93,1507.64 1361.36,1506.07 1364.78,1505.5 1368.21,1507.55 1371.63,1509.77 1375.06,1509.24 1378.49,1504.92 1381.91,1506.85 1385.34,1511.75 1388.76,1510.42 1392.19,1507.45 1395.61,1510.22 1399.04,1513.43 1402.47,1515.31 1405.89,1508.92 1409.32,1502.08 1412.74,1505.67 1416.17,1504.27" fill="none" stroke="#1f77b4" stroke-width="3.125" stroke-linejoin="round" stroke-linecap="square"/>
<polyline points="182.92,1526.69 186.34,1510.4 189.77,1527.09 193.19,1519.46 196.62,1517.63 200.04,1521.03 203.47,1506.77 206.9,1517.29 210.32,1518.05 213.75,1513.51 217.17,1519.77 220.6,1529.14 224.02,1518.86 227.45,1523.19 230.88,1524.02 234.3,1517.09 237.73,1531.72 241.15,1529.85 244.58,1533.06 248,1530.84 251.43,1520.58 254.86,1536.14 258.28,1531.01 261.71,1524.12 265.13,1529.26 268.56,1532.88 271.98,1531.44 275.41,1522.51 278.84,1535.62 282.26,1519.26 285.69,1518.6 289.11,1527.83 292.54,1526.18 295.96,1525.64 299.39,1529.84 302.82,1526.07 306.24,1539.52 309.67,1537.42 313.09,1533.54 316.52,1532.59 319.94,1526.18 323.37,1526.81 326.8,1522.56 330.22,1525.85 333.65,1524.77 337.07,1521.32 340.5,1527.23 343.92,1526.62 347.35,1524.11 350.78,1528.97 354.2,1524.81 357.63,1523.87 361.05,1528.83 364.48,1528.45 367.9,1527.63 371.33,1518.93 374.76,1517.73 378.18,1529.34 381.61,1519.15 385.03,1525.3 388.46,1530.51 391.88,1526.32 395.31,1528.86 398.74,1529.11 402.16,1532.57 405.59,1524.37 409.01,1531.52 412.44,1524.65 415.86,1516.24 419.29,1507.65 422.72,1523.24 426.14,1527.51 429.57,1529.51 432.99,1534.09 436.42,1525.8 439.84,1544.77 443.27,1530.44 446.69,1536.54 450.12,1530.81 453.55,1524.15 456.97,1530.45 460.4,1532.48 463.82,1529.17 467.25,1526.93 470.67,1518.89 474.1,1516.33 477.53,1522.8 480.95,1530.66 484.38,1524.62 487.8,1530.33 491.23,1536.39 494.65,1536.84 498.08,1530.75 501.51,1536.67 504.93,1530.12 508.36,1524.37 511.78,1512.33 515.21,1526.58 518.63,1519.12 522.06,1534.99 525.49,1529.23 528.91,1524.38 532.34,1522.58 535.76,1532.83 539.19,1518.58 542.61,1520.73 546.04,1521.37 549.47,1520.35 552.89,1525.16 556.32,1516.75 559.74,1520.58 563.17,1522.26 566.59,1516.3 570.02,1523.58 573.45,1518.95 576.87,1504.27 580.3,1519.4 583.72,1527.57 587.15,1524.59 590.57,1532.83 594,1532.14 597.43,1522.74 600.85,1524.81 604.28,1528.11 607.7,1522.14 611.13,1524.36 614.55,1523.27 617.98,1528.84 621.41,1537.57 624.83,1533.75 628.26,1528.97 631.68,1531.95 635.11,1538.88 638.53,1529.47 641.96,1539.85 645.39,1537.34 648.81,1546.2 652.24,1536.4 655.66,1535.43 659.09,1538.49 662.51,1537.68 665.94,1542.92 669.37,1537.83 672.79,1544.82 676.22,1540.43 679.64,1542.67 683.07,1543.62 686.49,1541.48 689.92,1540.78 693.35,1542.31 696.77,1548.62 700.2,1531.99 703.62,1528.6 707.05,1539.21 710.47,1544.65 713.9,1539.43 717.33,1547.9 720.75,1537.84 724.18,1532.19 727.6,1538.27 731.03,1538.06 734.45,1551.21 737.88,1542.52 741.31,1547.49 744.73,1531.62 748.16,1540.94 751.58,1541.97 755.01,1537.33 758.43,1534.45 761.86,1536.6 765.28,1543.77 768.71,1538 772.14,1537.12 775.56,1541.71 778.99,1536.38 782.41,1544.17 785.84,1537.3 789.26,1534.33 792.69,1538.12 796.12,1546.78 799.54,1541.11 802.97,1540.66 806.39,1543.02 809.82,1553.43 813.24,1547.41 816.67,1545.56 820.1,1528.23 823.52,1539.69 826.95,1543.41 830.37,1534.97 833.8,1541.56 837.22,1539.5 840.65,1529.84 844.08,1530.74 847.5,1535.07 850.93,1539.96 854.35,1553.04 857.78,1537.25 861.2,1544.01 864.63,1534.07 868.06,1534.66 871.48,1547.68 874.91,1547.81 878.33,1543.02 881.76,1540.06 885.18,1535.52 888.61,1547.69 892.04,1552.08 895.46,1542.35 898.89,1543.46 902.31,1541.35 905.74,1532.54 909.16,1542.79 912.59,1533.99 916.02,1540.37 919.44,1536.13 922.87,1533.64 926.29,1538.55 929.72,1546.38 933.14,1542.74 936.57,1537.85 940,1545.04 943.42,1543.97 946.85,1539.27 950.27,1541.74 953.7,1531.95 957.12,1531.91 960.55,1549.61 963.98,1532.19 967.4,1539.3 970.83,1536.14 974.25,1525.96 977.68,1531.48 981.1,1532.37 984.53,1534.19 987.96,1527.32 991.38,1523.55 994.81,1524.09 998.23,1533.36 1001.66,1521.85 1005.08,1535.21 1008.51,1524.37 1011.94,1533.53 1015.36,1524.41 1018.79,1524.44 1022.21,1537.62 1025.64,1533.78 1029.06,1533.61 1032.49,1528.31 1035.92,1537.92 1039.34,1540.14 1042.77,1517.64 1046.19,1530.93 1049.62,1529.17 1053.04,1535.23 1056.47,1535.08 1059.9,1533 1063.32,1535.78 1066.75,1538.92 1070.17,1539.59 1073.6,1530.31 1077.02,1542.31 1080.45,1534.95 1083.88,1538.43 1087.3,1540.48 1090.73,1534.73 1094.15,1540.27 1097.58,1548.13 1101,1529.78 1104.43,1532.09 1107.86,1529.34 1111.28,1524.82 1114.71,1531.24 1118.13,1523.06 1121.56,1531.39 1124.98,1517.17 1128.41,1536.03 1131.83,1529.05 1135.26,1530.23 1138.69,1534.77 1142.11,1532.33 1145.54,1525.78 1148.96,1534.67 1152.39,1528.37 1155.81,1527.35 1159.24,1541.21 1162.67,1542.69 1166.09,1549.73 1169.52,1541.38 1172.94,1536.92 1176.37,1537.69 1179.79,1534.33 1183.22,1526.48 1186.65,1524.62 1190.07,1532.78 1193.5,1528.28 1196.92,1528.66 1200.35,1533.07 1203.77,1523.62 1207.2,1521.8 1210.63,1523.69 1214.05,1530.82 1217.48,1520.61 1220.9,1522.96 1224.33,1532.43 1227.75,1531.22 1231.18,1524.63 1234.61,1532.52 1238.03,1523.54 1241.46,1521.56 1244.88,1530.67 1248.31,1530.15 1251.73,1530.44 1255.16,1523.45 1258.59,1526.18 1262.01,1536.92 1265.44,1540.05 1268.86,1537.19 1272.29,1536.77 1275.71,1541.78 1279.14,1532.41 1282.57,1536.04 1285.99,1530.59 1289.42,1529.24 1292.84,1539.09 1296.27,1521.81 1299.69,1523.74 1303.12,1533.52 1306.55,1536.79 1309.97,1536.18 1313.4,1528.25 1316.82,1535.84 1320.25,1532.77 1323.67,1526.04 1327.1,1538.17 1330.53,1541.32 1333.95,1534.5 1337.38,1532.74 1340.8,1537.78 1344.23,1539.61 1347.65,1528.3 1351.08,1530.45 1354.51,1531.78 1357.93,1529.63 1361.36,1528.08 1364.78,1536.33 1368.21,1528.25 1371.63,1538.03 1375.06,1535.06 1378.49,1532.52 1381.91,1529.08 1385.34,1525.82 1388.76,1529.95 1392.19,1532.29 1395.61,1529.23 1399.04,1528.93 1402.47,1531.39 1405.89,1524.31 1409.32,1522.7 1412.74,1516.29 1416.17,1518.54" fill="none" stroke="#ff7f0e" stroke-width="3.125" stroke-linejoin="round" stroke-dasharray="11.562 5.000"/>
<path d="M251 1713v7.29M423 1713v7.29M594 1713v7.29M765 1713v7.29M937 1713v7.29M1108 1713v7.29M1279 1713v7.29M1450 1713v7.29M121 1696h-7.29M121 1614h-7.29M121 1533h-7.29M121 1451h-7.29M121 1370h-7.29" fill="none" stroke="#000" stroke-width="1.667"/>
<rect x="121" y="1338" width="1357" height="375" fill="none" stroke="#000" stroke-width="1.667" stroke-linejoin="miter"/>
<text x="106.0" y="1703.6" text-anchor="end">0</text>
<text x="106.0" y="1621.6" text-anchor="end">2</text>
<text x="106.0" y="1540.6" text-anchor="end">4</text>
<text x="106.0" y="1458.6" text-anchor="end">6</text>
<text x="106.0" y="1377.6" text-anchor="end">8</text>
<text transform="translate(78.9 1526.8) rotate(-90)" text-anchor="middle">Vitesse du vent (km/h)</text>
</g>
<text x="250.2" y="1743.2" text-anchor="middle">−100</text>
<text x="422.2" y="1743.2" text-anchor="middle">−50</text>
<text x="594" y="1743.2" text-anchor="middle">0</text>
<text x="765.4" y="1743.2" text-anchor="middle">50</text>
<text x="937.4" y="1743.2" text-anchor="middle">100</text>
<text x="1108.4" y="1743.2" text-anchor="middle">150</text>
<text x="1279.4" y="1743.2" text-anchor="middle">200</text>
<text x="1450.4" y="1743.2" text-anchor="middle">250</text>
<text x="799.5" y="1772.0" text-anchor="middle">Minutes autour de l'événement</text>
<g>
<rect x="1213.1" y="134.8" width="254.3" height="129.8" rx="4.17" ry="4.17" fill="#fff" fill-opacity="0.8" stroke="#ccc" stroke-opacity="0.8" stroke-width="2.083"/>
<path d="M1221.43 153.9H1263.1" fill="none" stroke="#000" stroke-width="2.083" stroke-dasharray="7.708 3.333"/>
<path d="M1221.43 184.6H1263.1" fill="none" stroke="#1f77b4" stroke-width="3.125" stroke-linecap="square"/>
<path d="M1221.43 215.5H1263.1" fill="none" stroke="#ff7f0e" stroke-width="3.125" stroke-dasharray="11.562 5.000"/>
<rect x="1221.43" y="238.05" width="41.67" height="13.65" fill="#1f77b4" fill-opacity="0.2" stroke="#1f77b4" stroke-opacity="0.2" stroke-width="2.083"/>
<text x="1280.4" y="160.5">Début de la pluie</text>
<text x="1280.4" y="192.4">Moyenne</text>
<text x="1280.4" y="222.0">Médiane</text>
<text x="1280.4" y="252.8">IQR 20–80%</text>
</g>
</svg>
</body>
</html>
